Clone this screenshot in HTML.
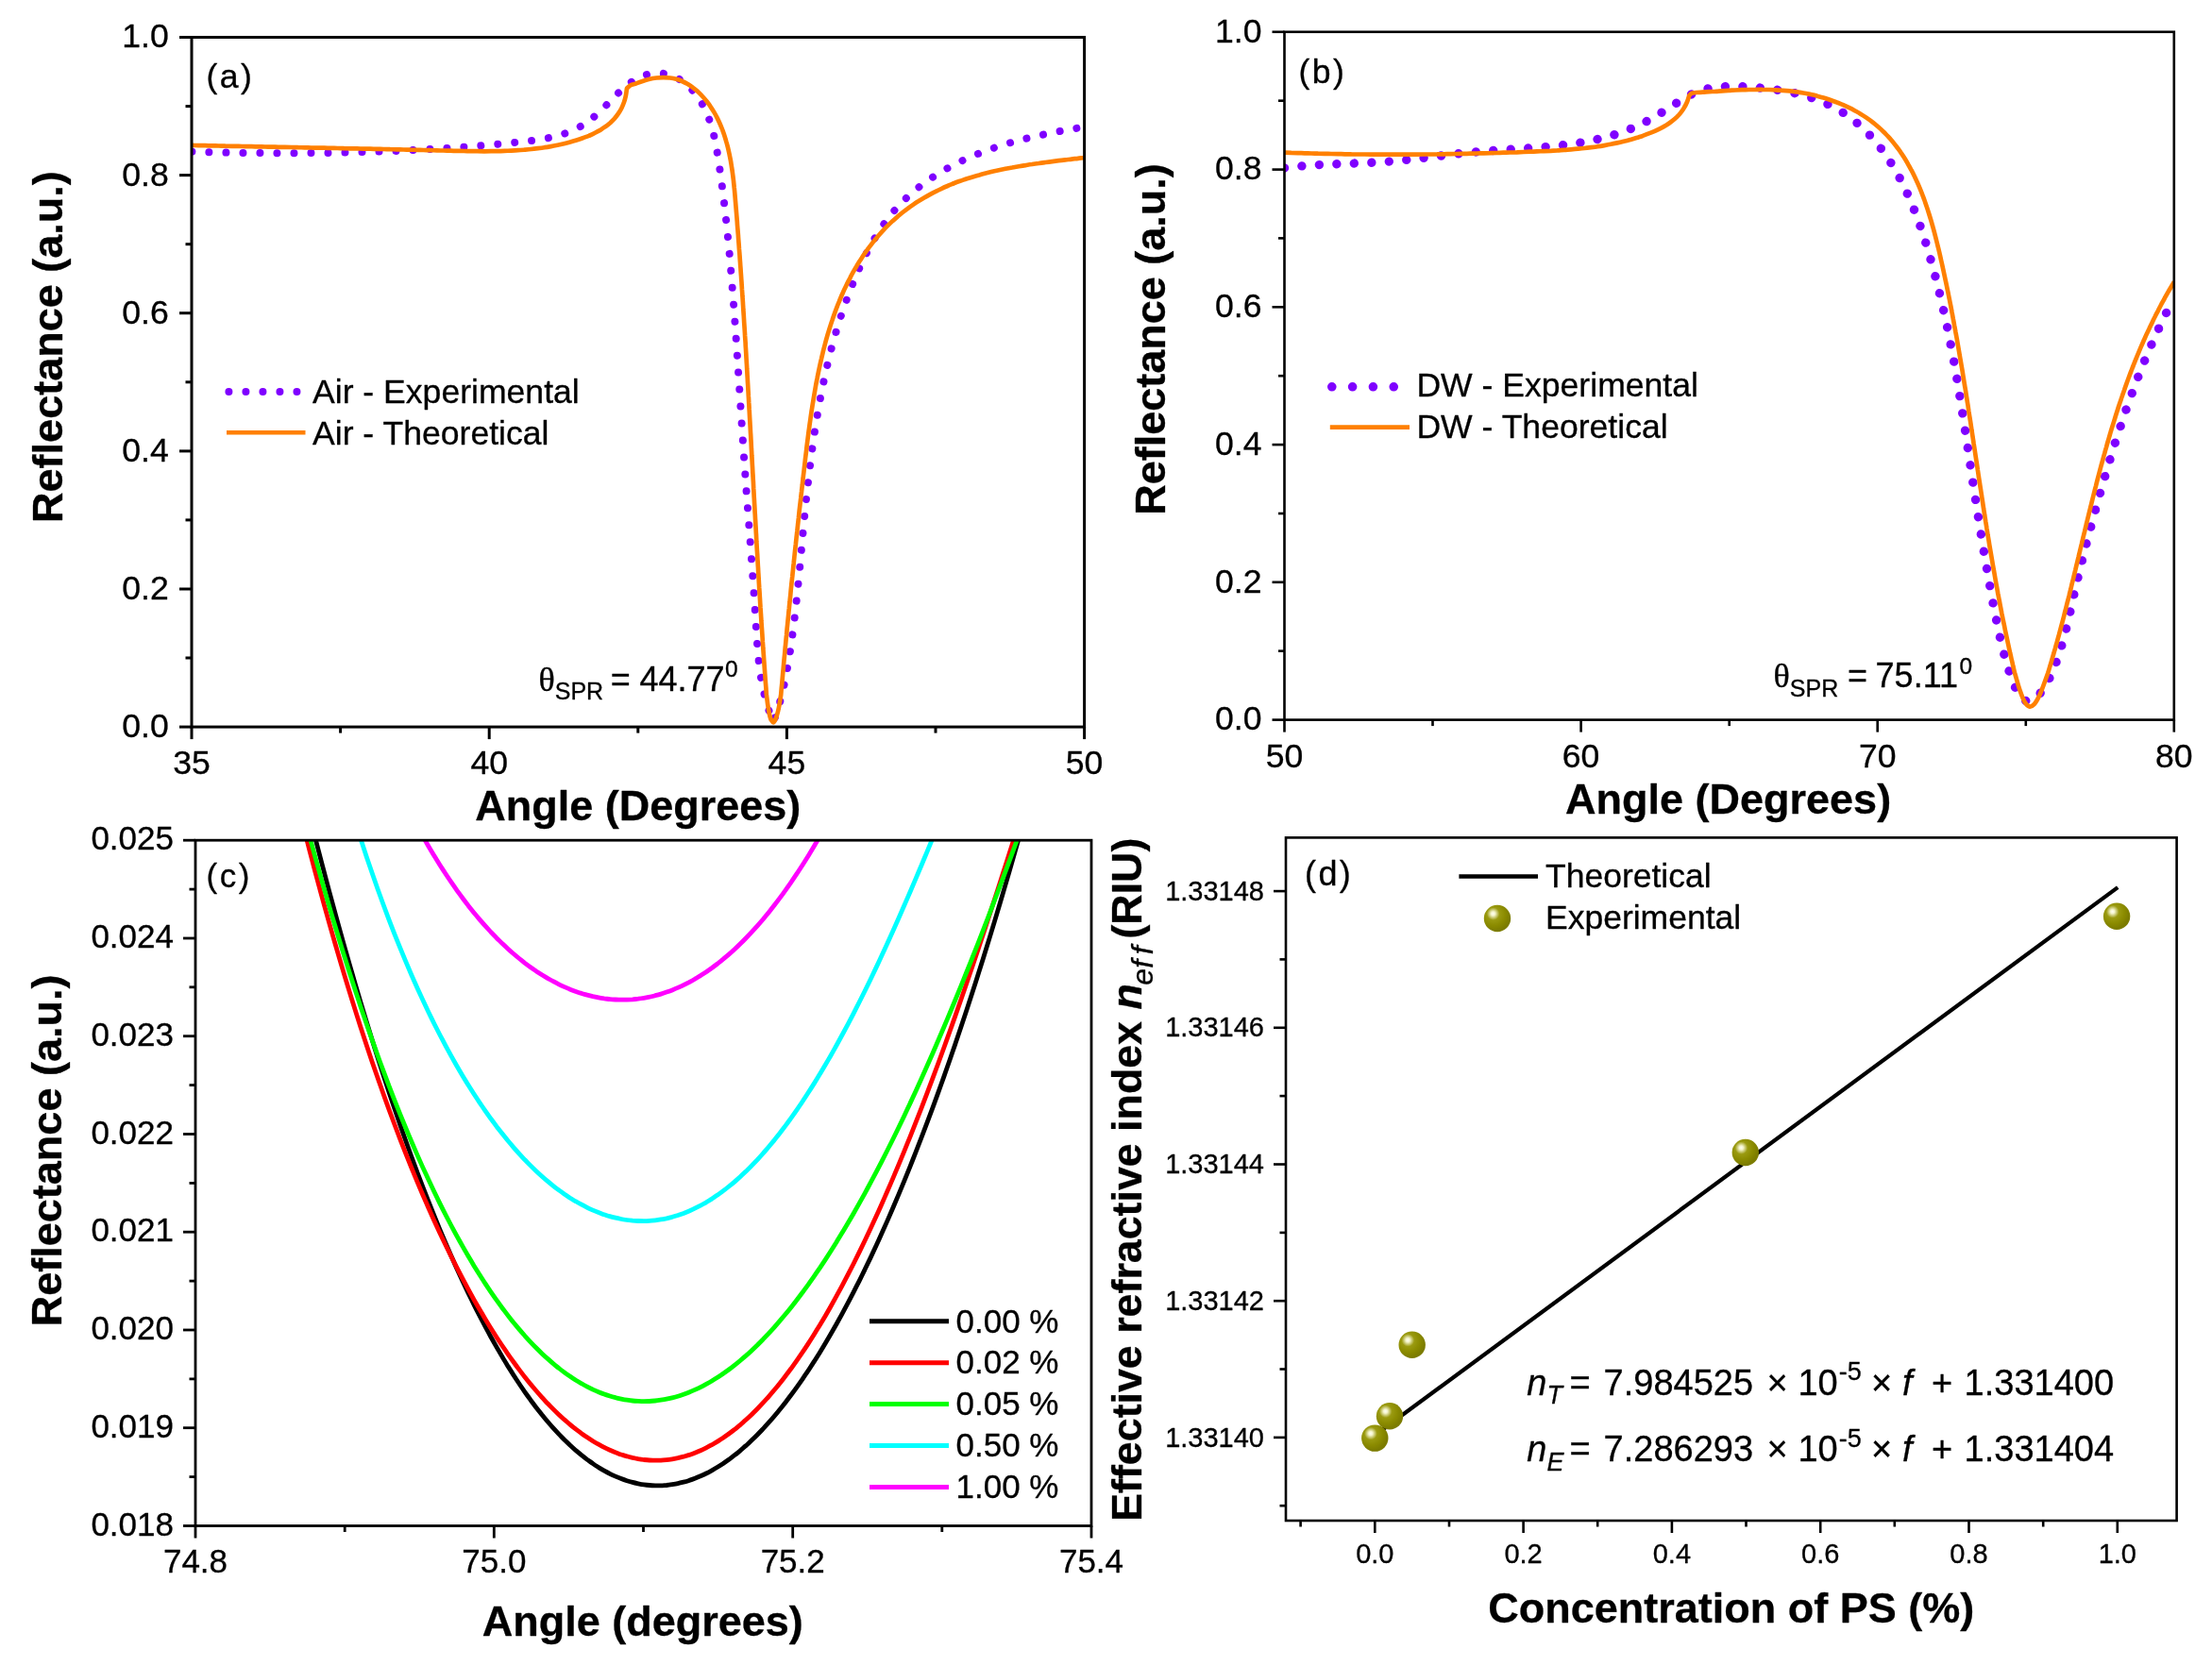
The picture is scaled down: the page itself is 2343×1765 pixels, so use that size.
<!DOCTYPE html><html><head><meta charset="utf-8"><title>SPR reflectance figure</title>
<style>html,body{margin:0;padding:0;background:#fff}svg{display:block;filter:blur(.55px)}text{fill:#000;stroke:#000;stroke-width:.32px;stroke-linejoin:round}</style></head><body>
<svg width="2343" height="1765" viewBox="0 0 2343 1765">
<rect width="2343" height="1765" fill="#fff"/>
<defs><radialGradient id="ball" cx="0.36" cy="0.34" r="0.62" fx="0.34" fy="0.32"><stop offset="0" stop-color="#fffff4"/><stop offset="0.12" stop-color="#f4f4cc"/><stop offset="0.38" stop-color="#9a9a10"/><stop offset="0.7" stop-color="#8b8b00"/><stop offset="1" stop-color="#7c7c00"/></radialGradient></defs>
<g id="panel-a">
<clipPath id="clipA"><rect x="203" y="37.5" width="947.6" height="734.6"/></clipPath>
<g clip-path="url(#clipA)">
<path d="M203.4 160.7C205.7 160.8 208 160.8 210.3 160.9C212.7 161 215 161 217.3 161.1C219.6 161.2 221.9 161.2 224.3 161.3C226.6 161.3 228.9 161.4 231.2 161.4C233.6 161.5 235.9 161.5 238.2 161.6C240.6 161.6 242.9 161.7 245.2 161.7C247.5 161.7 249.9 161.8 252.2 161.8C254.6 161.9 256.9 161.9 259.2 161.9C261.6 162 263.9 162 266.2 162C268.6 162 270.9 162.1 273.3 162.1C275.6 162.1 278 162.1 280.3 162.2C282.7 162.2 285 162.2 287.3 162.2C289.7 162.2 292 162.2 294.4 162.2C296.7 162.2 299.1 162.2 301.4 162.2C303.8 162.2 306.1 162.2 308.5 162.2C310.9 162.2 313.2 162.2 315.6 162.2C317.9 162.2 320.3 162.2 322.6 162.2C325 162.2 327.3 162.1 329.7 162.1C332 162.1 334.4 162.1 336.8 162C339.1 162 341.5 162 343.8 162C346.2 161.9 348.5 161.9 350.9 161.9C353.3 161.8 355.6 161.8 358 161.7C360.3 161.7 362.7 161.6 365 161.6C367.4 161.5 369.8 161.5 372.1 161.4C374.5 161.4 376.8 161.3 379.2 161.2C381.6 161.2 383.9 161.1 386.3 161C388.6 161 391 160.9 393.3 160.8C395.7 160.8 398 160.7 400.4 160.6C402.8 160.5 405.1 160.4 407.5 160.3C409.8 160.2 412.2 160.2 414.5 160.1C416.9 160 419.2 159.9 421.6 159.8C423.9 159.7 426.3 159.6 428.6 159.4C431 159.3 433.3 159.2 435.7 159.1C438 159 440.4 158.9 442.7 158.8C445.1 158.6 447.4 158.5 449.8 158.4C452.1 158.2 454.5 158.1 456.8 158C459.1 157.8 461.5 157.7 463.8 157.6C466.2 157.4 468.5 157.3 470.8 157.1C473.2 157 475.5 156.8 477.8 156.6C480.2 156.5 482.5 156.3 484.8 156.2C487.2 156 489.5 155.8 491.8 155.7C494.1 155.5 496.5 155.3 498.8 155.1C501.1 154.9 503.4 154.8 505.8 154.6C508.1 154.4 510.4 154.2 512.7 154C515 153.8 517.4 153.6 519.7 153.4C522 153.2 524.3 153 526.6 152.8C528.9 152.6 531.2 152.3 533.5 152.1C535.8 151.9 538.1 151.7 540.4 151.4C542.7 151.2 545 151 547.3 150.8C549.6 150.5 551.9 150.3 554.2 150C556.5 149.8 558.8 149.5 561.1 149.2C563.3 149 565.6 148.7 567.9 148.3C570.1 148 572.4 147.7 574.6 147.3C576.9 146.9 579.1 146.5 581.3 146C583.5 145.6 585.7 145.1 587.9 144.5C590.1 144 592.3 143.4 594.4 142.7C596.6 142 598.7 141.3 600.8 140.5C603 139.7 605.1 138.8 607.1 137.9C609.2 137 611.2 135.9 613.2 134.9C615.3 133.7 617.3 132.6 619.2 131.3C621.2 130 623.1 128.6 625 127.2C626.9 125.7 628.8 124.1 630.6 122.5C632.5 120.9 634.3 119.2 636.1 117.4C638 115.7 639.7 113.9 641.5 112.1C643.3 110.3 645.1 108.4 646.9 106.6C648.6 104.8 650.4 103 652.2 101.2C654 99.5 655.8 97.7 657.6 96C659.4 94.4 661.2 92.8 663 91.2C664.8 89.8 666.7 88.3 668.6 87C670.5 85.7 672.4 84.5 674.3 83.5C676.3 82.4 678.2 81.5 680.3 80.7C682.2 80 684.2 79.3 686.3 78.8C688.3 78.3 690.3 77.9 692.4 77.7C694.4 77.5 696.4 77.4 698.4 77.5C700.5 77.6 702.5 77.8 704.5 78.1C706.5 78.5 708.5 79 710.4 79.7C712.4 80.3 714.3 81.1 716.2 82.1C718.1 83 719.9 84.1 721.7 85.3C723.5 86.6 725.3 87.9 727 89.4C728.7 90.9 730.3 92.4 731.9 94.1C733.5 95.7 735 97.5 736.4 99.3C737.8 101.1 739.2 103 740.5 104.9C741.8 106.8 743 108.8 744.1 110.8C745.2 112.7 746.2 114.8 747.2 116.9C748.2 118.9 749.1 121 749.9 123.2C750.8 125.3 751.6 127.5 752.3 129.7C753 131.9 753.7 134.1 754.3 136.3C755 138.6 755.5 140.8 756.1 143.1C756.6 145.4 757.1 147.7 757.6 150C758.1 152.3 758.5 154.6 758.9 157C759.3 159.3 759.7 161.6 760.1 164C760.5 166.3 760.8 168.7 761.2 171C761.5 173.4 761.9 175.8 762.2 178.1C762.6 180.5 762.9 182.8 763.2 185.2C763.5 187.5 763.9 189.9 764.2 192.3C764.5 194.6 764.8 197 765.1 199.3C765.4 201.7 765.7 204 766 206.4C766.3 208.7 766.6 211.1 766.9 213.5C767.1 215.8 767.4 218.2 767.7 220.5C768 222.9 768.2 225.2 768.5 227.6C768.7 229.9 769 232.3 769.3 234.7C769.5 237 769.8 239.4 770 241.7C770.3 244.1 770.5 246.4 770.7 248.8C771 251.1 771.2 253.5 771.4 255.8C771.7 258.2 771.9 260.6 772.1 262.9C772.3 265.3 772.5 267.6 772.8 270C773 272.3 773.2 274.7 773.4 277C773.6 279.4 773.8 281.7 774 284.1C774.2 286.4 774.4 288.8 774.6 291.1C774.8 293.5 775 295.8 775.2 298.2C775.4 300.5 775.6 302.9 775.7 305.3C775.9 307.6 776.1 310 776.3 312.3C776.5 314.7 776.7 317 776.8 319.4C777 321.7 777.2 324.1 777.4 326.4C777.5 328.8 777.7 331.1 777.9 333.5C778.1 335.8 778.2 338.2 778.4 340.5C778.6 342.9 778.7 345.2 778.9 347.5C779.1 349.9 779.2 352.2 779.4 354.6C779.6 356.9 779.7 359.3 779.9 361.6C780 364 780.2 366.3 780.4 368.7C780.5 371 780.7 373.4 780.8 375.7C781 378.1 781.2 380.4 781.3 382.7C781.5 385.1 781.6 387.4 781.8 389.8C781.9 392.1 782.1 394.5 782.2 396.8C782.4 399.2 782.6 401.5 782.7 403.8C782.9 406.2 783 408.5 783.2 410.9C783.3 413.2 783.5 415.6 783.6 417.9C783.8 420.2 783.9 422.6 784.1 424.9C784.2 427.3 784.4 429.6 784.5 431.9C784.7 434.3 784.9 436.6 785 439C785.2 441.3 785.3 443.6 785.5 446C785.6 448.3 785.8 450.6 785.9 453C786.1 455.3 786.2 457.7 786.4 460C786.6 462.3 786.7 464.7 786.9 467C787 469.3 787.2 471.7 787.3 474C787.5 476.3 787.7 478.7 787.8 481C788 483.3 788.1 485.7 788.3 488C788.5 490.3 788.6 492.7 788.8 495C789 497.3 789.1 499.7 789.3 502C789.5 504.3 789.6 506.7 789.8 509C790 511.3 790.1 513.6 790.3 516C790.5 518.3 790.6 520.6 790.8 523C791 525.3 791.2 527.6 791.3 529.9C791.5 532.3 791.7 534.6 791.9 536.9C792 539.2 792.2 541.6 792.4 543.9C792.6 546.2 792.7 548.5 792.9 550.9C793.1 553.2 793.3 555.5 793.4 557.8C793.6 560.2 793.8 562.5 794 564.8C794.1 567.1 794.3 569.4 794.5 571.8C794.7 574.1 794.8 576.4 795 578.7C795.2 581 795.3 583.4 795.5 585.7C795.7 588 795.9 590.3 796 592.6C796.2 594.9 796.4 597.3 796.5 599.6C796.7 601.9 796.9 604.2 797 606.5C797.2 608.8 797.4 611.1 797.5 613.4C797.7 615.8 797.9 618.1 798 620.4C798.2 622.7 798.3 625 798.5 627.3C798.7 629.6 798.8 631.9 799 634.2C799.1 636.5 799.3 638.9 799.4 641.2C799.6 643.5 799.7 645.8 799.9 648.1C800 650.4 800.2 652.7 800.3 655C800.5 657.3 800.6 659.6 800.7 661.9C800.9 664.2 801 666.5 801.2 668.8C801.3 671.1 801.5 673.4 801.6 675.7C801.8 678 801.9 680.3 802.1 682.6C802.3 684.9 802.5 687.2 802.7 689.5C802.8 691.8 803.1 694.1 803.3 696.4C803.5 698.7 803.8 701 804 703.3C804.3 705.6 804.6 707.9 804.9 710.2C805.2 712.4 805.5 714.7 805.9 717C806.3 719.3 806.7 721.6 807.1 723.9C807.5 726.2 808 728.5 808.5 730.8C809 733.1 809.5 735.3 810.1 737.6C810.6 739.9 811.3 742.2 811.9 744.5C812.6 746.8 813.2 749.1 814 751.3C814.7 753.6 815.5 755.9 816.3 758.2C817.2 760.5 818.1 762.7 819 765L819 765C819.8 762.8 820.7 760.7 821.5 758.5C822.2 756.3 823 754.1 823.7 751.9C824.4 749.7 825 747.5 825.7 745.3C826.3 743.1 826.9 740.9 827.5 738.7C828 736.5 828.6 734.3 829.1 732.1C829.6 729.9 830.1 727.6 830.6 725.4C831 723.2 831.5 720.9 831.9 718.7C832.4 716.4 832.8 714.2 833.2 711.9C833.6 709.7 834 707.4 834.4 705.2C834.8 702.9 835.2 700.6 835.6 698.4C835.9 696.1 836.3 693.8 836.7 691.5C837 689.3 837.4 687 837.7 684.7C838 682.4 838.4 680.1 838.7 677.8C839 675.5 839.3 673.2 839.6 670.9C839.9 668.6 840.2 666.3 840.5 664C840.8 661.7 841.1 659.4 841.4 657.1C841.6 654.8 841.9 652.5 842.2 650.2C842.4 647.8 842.7 645.5 843 643.2C843.2 640.9 843.5 638.5 843.7 636.2C844 633.9 844.2 631.5 844.4 629.2C844.7 626.9 844.9 624.5 845.2 622.2C845.4 619.8 845.6 617.5 845.8 615.2C846.1 612.8 846.3 610.5 846.5 608.1C846.7 605.8 847 603.4 847.2 601.1C847.4 598.7 847.6 596.4 847.8 594C848 591.7 848.2 589.3 848.5 586.9C848.7 584.6 848.9 582.2 849.1 579.9C849.3 577.5 849.5 575.1 849.8 572.8C850 570.4 850.2 568.1 850.4 565.7C850.6 563.3 850.8 561 851.1 558.6C851.3 556.2 851.5 553.9 851.7 551.5C852 549.1 852.2 546.8 852.4 544.4C852.6 542 852.9 539.7 853.1 537.3C853.4 534.9 853.6 532.6 853.8 530.2C854.1 527.8 854.3 525.5 854.6 523.1C854.8 520.7 855.1 518.4 855.4 516C855.6 513.7 855.9 511.3 856.2 508.9C856.4 506.6 856.7 504.2 857 501.8C857.3 499.5 857.5 497.1 857.8 494.8C858.1 492.4 858.4 490 858.7 487.7C859 485.3 859.3 483 859.6 480.6C859.9 478.3 860.3 475.9 860.6 473.6C860.9 471.2 861.2 468.9 861.6 466.5C861.9 464.2 862.3 461.8 862.6 459.5C863 457.1 863.3 454.8 863.7 452.4C864.1 450.1 864.4 447.8 864.8 445.4C865.2 443.1 865.6 440.8 866 438.4C866.4 436.1 866.8 433.8 867.2 431.4C867.6 429.1 868 426.8 868.5 424.5C868.9 422.2 869.3 419.8 869.8 417.5C870.2 415.2 870.7 412.9 871.1 410.6C871.6 408.3 872.1 406 872.6 403.7C873.1 401.4 873.6 399.1 874.1 396.8C874.6 394.5 875.1 392.2 875.6 389.9C876.1 387.7 876.7 385.4 877.2 383.1C877.8 380.8 878.3 378.5 878.9 376.3C879.5 374 880.1 371.7 880.6 369.5C881.2 367.2 881.8 365 882.5 362.7C883.1 360.5 883.7 358.2 884.3 356C885 353.7 885.6 351.5 886.3 349.3C887 347 887.6 344.8 888.3 342.6C889 340.4 889.7 338.2 890.4 335.9C891.2 333.7 891.9 331.5 892.6 329.3C893.4 327.1 894.1 324.9 894.9 322.7C895.7 320.6 896.5 318.4 897.2 316.2C898 314 898.9 311.8 899.7 309.7C900.5 307.5 901.4 305.4 902.2 303.2C903.1 301.1 903.9 298.9 904.8 296.8C905.7 294.6 906.6 292.5 907.5 290.4C908.5 288.2 909.4 286.1 910.3 284C911.3 281.9 912.3 279.8 913.2 277.7C914.2 275.6 915.2 273.5 916.3 271.4C917.3 269.4 918.3 267.3 919.4 265.3C920.5 263.2 921.6 261.2 922.7 259.2C923.8 257.1 924.9 255.1 926.1 253.1C927.3 251.2 928.5 249.2 929.7 247.2C930.9 245.3 932.2 243.4 933.4 241.4C934.7 239.5 936 237.6 937.4 235.8C938.7 233.9 940.1 232.1 941.5 230.2C942.9 228.4 944.3 226.6 945.8 224.9C947.3 223.1 948.8 221.3 950.4 219.6C951.9 217.9 953.5 216.2 955.1 214.6C956.8 212.9 958.4 211.3 960.1 209.7C961.8 208.1 963.5 206.5 965.3 205C967.1 203.4 968.9 201.9 970.7 200.4C972.5 198.9 974.4 197.5 976.2 196C978.1 194.6 980 193.2 982 191.8C983.9 190.5 985.8 189.1 987.8 187.8C989.8 186.5 991.8 185.2 993.8 184C995.8 182.7 997.9 181.5 999.9 180.3C1002 179.1 1004.1 178 1006.2 176.8C1008.2 175.7 1010.3 174.6 1012.5 173.5C1014.6 172.4 1016.7 171.4 1018.9 170.4C1021 169.4 1023.2 168.4 1025.3 167.4C1027.5 166.4 1029.7 165.5 1031.9 164.6C1034.1 163.7 1036.3 162.8 1038.5 161.9C1040.7 161 1042.9 160.2 1045.2 159.4C1047.4 158.6 1049.6 157.8 1051.9 157C1054.1 156.2 1056.4 155.5 1058.6 154.7C1060.9 154 1063.2 153.3 1065.4 152.6C1067.7 151.9 1070 151.3 1072.3 150.6C1074.6 150 1076.8 149.3 1079.1 148.7C1081.4 148.1 1083.7 147.5 1086 146.9C1088.3 146.4 1090.6 145.8 1092.9 145.3C1095.2 144.7 1097.5 144.2 1099.8 143.7C1102.1 143.2 1104.4 142.7 1106.7 142.2C1108.9 141.7 1111.2 141.2 1113.5 140.8C1115.8 140.3 1118.1 139.9 1120.4 139.4C1122.7 139 1124.9 138.6 1127.2 138.2C1129.5 137.7 1131.7 137.3 1134 136.9C1136.3 136.6 1138.5 136.2 1140.8 135.8C1143 135.4 1145.3 135.1 1147.5 134.7" fill="none" stroke="#7f00ff" stroke-width="8" stroke-linecap="round" stroke-dasharray="0.01 18"/>
<path d="M203 153.9C205.4 154 207.8 154 210.2 154.1C212.5 154.1 214.9 154.2 217.3 154.2C219.7 154.3 222.1 154.3 224.4 154.4C226.8 154.4 229.2 154.5 231.5 154.5C233.9 154.6 236.3 154.6 238.6 154.7C241 154.7 243.3 154.7 245.7 154.8C248 154.8 250.4 154.9 252.7 154.9C255.1 155 257.4 155 259.8 155.1C262.1 155.1 264.5 155.2 266.8 155.2C269.1 155.3 271.5 155.3 273.8 155.4C276.2 155.4 278.5 155.5 280.8 155.5C283.2 155.5 285.5 155.6 287.8 155.6C290.1 155.7 292.5 155.7 294.8 155.8C297.1 155.8 299.5 155.9 301.8 155.9C304.1 156 306.4 156 308.7 156C311.1 156.1 313.4 156.1 315.7 156.2C318 156.2 320.4 156.3 322.7 156.3C325 156.4 327.3 156.4 329.6 156.5C332 156.5 334.3 156.6 336.6 156.6C338.9 156.6 341.2 156.7 343.5 156.7C345.9 156.8 348.2 156.8 350.5 156.9C352.8 156.9 355.1 157 357.5 157C359.8 157.1 362.1 157.1 364.4 157.2C366.7 157.2 369.1 157.2 371.4 157.3C373.7 157.3 376 157.4 378.3 157.4C380.7 157.5 383 157.5 385.3 157.6C387.6 157.6 390 157.7 392.3 157.7C394.6 157.8 397 157.8 399.3 157.9C401.6 157.9 404 158 406.3 158C408.6 158.1 411 158.1 413.3 158.2C415.6 158.2 418 158.3 420.3 158.3C422.7 158.4 425 158.4 427.3 158.5C429.7 158.6 432 158.6 434.4 158.7C436.7 158.7 439.1 158.8 441.4 158.8C443.8 158.9 446.2 158.9 448.5 159C450.9 159.1 453.2 159.1 455.6 159.2C458 159.2 460.3 159.3 462.7 159.3C465.1 159.4 467.5 159.5 469.8 159.5C472.2 159.6 474.6 159.6 477 159.7C479.4 159.8 481.8 159.8 484.2 159.9C486.5 159.9 488.9 160 491.3 160C493.7 160.1 496.1 160.1 498.5 160.2C500.9 160.2 503.3 160.2 505.7 160.2C508.1 160.3 510.5 160.3 512.9 160.3C515.3 160.3 517.7 160.3 520.1 160.2C522.4 160.2 524.8 160.2 527.2 160.1C529.6 160.1 532 160 534.4 159.9C536.8 159.8 539.1 159.7 541.5 159.6C543.9 159.5 546.2 159.4 548.6 159.2C551 159.1 553.3 158.9 555.7 158.7C558 158.5 560.4 158.3 562.7 158C565.1 157.8 567.4 157.5 569.7 157.2C572.1 156.9 574.4 156.6 576.7 156.2C579 155.9 581.3 155.5 583.6 155.1C585.9 154.7 588.2 154.2 590.5 153.7C592.7 153.3 595 152.8 597.3 152.2C599.5 151.7 601.8 151.1 604 150.5C606.2 149.9 608.5 149.2 610.7 148.5C612.9 147.8 615.1 147.1 617.3 146.3C619.4 145.6 621.5 144.7 623.7 143.9C625.7 143 627.8 142.1 629.8 141C631.8 140 633.8 139 635.7 137.9C637.6 136.7 639.4 135.5 641.2 134.2C643 133 644.7 131.6 646.3 130.2C647.9 128.7 649.4 127.2 650.9 125.6C652.3 124 653.7 122.2 654.9 120.4C656.1 118.6 657.3 116.7 658.3 114.7C659.3 112.7 660.2 110.5 661 108.3C661.8 106 662.4 103.7 662.9 101.3C663.4 98.7 663.6 96.1 664 93.5L664 93.5C665.3 92.4 666.5 91 668 90.2C669.5 89.4 671.3 89.3 673 88.8L673 88.8C675.6 87.8 678.1 86.7 680.7 85.9C683.1 85.1 685.6 84.4 688.2 83.8C690.6 83.2 693.1 82.8 695.5 82.5C697.9 82.2 700.3 82.1 702.7 82.1C705 82.1 707.3 82.2 709.6 82.5C711.8 82.8 714 83.2 716.2 83.8C718.3 84.4 720.4 85.1 722.4 86C724.5 86.9 726.5 87.9 728.4 89C730.3 90.2 732.2 91.4 734 92.8C735.8 94.1 737.5 95.6 739.2 97.1C740.9 98.7 742.5 100.3 744 102C745.6 103.7 747.1 105.5 748.5 107.3C749.9 109.1 751.3 110.9 752.5 112.8C753.8 114.7 755 116.7 756.2 118.6C757.4 120.6 758.5 122.6 759.5 124.6C760.5 126.6 761.5 128.7 762.4 130.7C763.3 132.8 764.2 134.9 765 137C765.8 139.2 766.6 141.3 767.3 143.5C768 145.7 768.7 147.9 769.3 150.1C770 152.3 770.5 154.5 771.1 156.8C771.6 159 772.1 161.3 772.6 163.6C773.1 165.9 773.5 168.2 774 170.5C774.4 172.8 774.7 175.2 775.1 177.5C775.5 179.8 775.8 182.2 776.1 184.5C776.4 186.9 776.7 189.3 777 191.7C777.2 194 777.5 196.4 777.7 198.8C778 201.2 778.2 203.6 778.4 206C778.6 208.4 778.8 210.8 779 213.2C779.2 215.6 779.4 218 779.6 220.4C779.8 222.8 780 225.2 780.2 227.6C780.4 230 780.6 232.4 780.8 234.8C780.9 237.2 781.1 239.6 781.3 241.9C781.5 244.3 781.7 246.7 781.9 249.1C782 251.5 782.2 253.9 782.4 256.3C782.6 258.7 782.8 261 782.9 263.4C783.1 265.8 783.3 268.2 783.5 270.6C783.6 272.9 783.8 275.3 784 277.7C784.1 280.1 784.3 282.5 784.5 284.8C784.6 287.2 784.8 289.6 785 292C785.1 294.3 785.3 296.7 785.5 299.1C785.6 301.4 785.8 303.8 785.9 306.2C786.1 308.5 786.3 310.9 786.4 313.3C786.6 315.6 786.7 318 786.9 320.4C787 322.7 787.2 325.1 787.3 327.5C787.5 329.8 787.6 332.2 787.8 334.5C787.9 336.9 788.1 339.3 788.2 341.6C788.4 344 788.5 346.3 788.7 348.7C788.8 351 789 353.4 789.1 355.7C789.3 358.1 789.4 360.5 789.6 362.8C789.7 365.2 789.8 367.5 790 369.9C790.1 372.2 790.3 374.6 790.4 376.9C790.5 379.3 790.7 381.6 790.8 384C791 386.3 791.1 388.7 791.2 391C791.4 393.4 791.5 395.7 791.6 398.1C791.8 400.4 791.9 402.7 792 405.1C792.2 407.4 792.3 409.8 792.4 412.1C792.6 414.5 792.7 416.8 792.8 419.2C793 421.5 793.1 423.8 793.2 426.2C793.4 428.5 793.5 430.9 793.6 433.2C793.8 435.5 793.9 437.9 794 440.2C794.1 442.6 794.3 444.9 794.4 447.2C794.5 449.6 794.7 451.9 794.8 454.3C794.9 456.6 795 458.9 795.2 461.3C795.3 463.6 795.4 466 795.6 468.3C795.7 470.6 795.8 473 795.9 475.3C796.1 477.7 796.2 480 796.3 482.3C796.5 484.7 796.6 487 796.7 489.3C796.8 491.7 797 494 797.1 496.4C797.2 498.7 797.3 501 797.5 503.4C797.6 505.7 797.7 508 797.9 510.4C798 512.7 798.1 515 798.2 517.4C798.4 519.7 798.5 522.1 798.6 524.4C798.7 526.7 798.9 529.1 799 531.4C799.1 533.7 799.3 536.1 799.4 538.4C799.5 540.8 799.6 543.1 799.8 545.4C799.9 547.8 800 550.1 800.2 552.4C800.3 554.8 800.4 557.1 800.6 559.5C800.7 561.8 800.8 564.1 801 566.5C801.1 568.8 801.2 571.2 801.3 573.5C801.5 575.8 801.6 578.2 801.7 580.5C801.9 582.9 802 585.2 802.2 587.5C802.3 589.9 802.4 592.2 802.6 594.6C802.7 596.9 802.8 599.3 803 601.6C803.1 604 803.2 606.3 803.4 608.6C803.5 611 803.7 613.3 803.8 615.7C803.9 618 804.1 620.4 804.2 622.7C804.4 625.1 804.5 627.4 804.7 629.8C804.8 632.1 805 634.5 805.1 636.8C805.2 639.2 805.4 641.5 805.5 643.9C805.7 646.2 805.8 648.6 806 650.9C806.1 653.3 806.3 655.6 806.4 658C806.6 660.3 806.7 662.7 806.9 665C807.1 667.4 807.2 669.7 807.4 672.1C807.5 674.5 807.7 676.8 807.8 679.2C808 681.5 808.2 683.9 808.3 686.3C808.5 688.6 808.6 691 808.8 693.3C809 695.7 809.1 698.1 809.3 700.4C809.5 702.8 809.6 705.2 809.8 707.5C810 709.9 810.1 712.3 810.3 714.6C810.5 717 810.7 719.4 810.8 721.8C811 724.1 811.2 726.5 811.4 728.9C811.5 731.3 811.7 733.6 811.9 736L811.9 736C812.5 740.8 813 745.6 813.8 750.4C814.3 753.5 814.9 756.6 815.7 759.6C816 760.9 816.5 762.1 817.2 763.2C817.7 764.1 818.6 765.5 819.2 765.5C819.8 765.5 820.4 764 820.9 763.2C821.5 762.1 822 760.8 822.4 759.6C823.3 756.6 824.2 753.5 824.8 750.4C825.8 745.6 826.4 740.8 827.2 736L827.2 736C827.4 733.6 827.6 731.2 827.8 728.8C828.1 726.4 828.3 724.1 828.5 721.7C828.7 719.3 828.9 716.9 829.1 714.6C829.3 712.2 829.6 709.9 829.8 707.5C830 705.2 830.2 702.8 830.4 700.4C830.6 698.1 830.9 695.8 831.1 693.4C831.3 691.1 831.5 688.8 831.7 686.4C832 684.1 832.2 681.8 832.4 679.4C832.6 677.1 832.8 674.8 833.1 672.5C833.3 670.2 833.5 667.9 833.7 665.5C834 663.2 834.2 660.9 834.4 658.6C834.6 656.3 834.9 654 835.1 651.7C835.3 649.4 835.5 647.1 835.8 644.8C836 642.5 836.2 640.2 836.5 637.9C836.7 635.6 836.9 633.4 837.2 631.1C837.4 628.8 837.6 626.5 837.8 624.2C838.1 621.9 838.3 619.6 838.5 617.3C838.8 615.1 839 612.8 839.3 610.5C839.5 608.2 839.7 605.9 840 603.6C840.2 601.4 840.4 599.1 840.7 596.8C840.9 594.5 841.2 592.2 841.4 589.9C841.6 587.7 841.9 585.4 842.1 583.1C842.4 580.8 842.6 578.5 842.9 576.2C843.1 573.9 843.4 571.7 843.6 569.4C843.9 567.1 844.1 564.8 844.4 562.5C844.6 560.2 844.9 557.9 845.1 555.6C845.4 553.3 845.6 551 845.9 548.7C846.1 546.4 846.4 544.1 846.6 541.8C846.9 539.5 847.1 537.2 847.4 534.9C847.7 532.6 847.9 530.3 848.2 528C848.4 525.7 848.7 523.4 849 521C849.2 518.7 849.5 516.4 849.8 514.1C850 511.7 850.3 509.4 850.6 507.1C850.8 504.7 851.1 502.4 851.4 500.1C851.7 497.7 851.9 495.4 852.2 493C852.5 490.7 852.8 488.3 853 486C853.3 483.6 853.6 481.2 853.9 478.9C854.2 476.5 854.4 474.1 854.7 471.8C855 469.4 855.3 467 855.6 464.7C855.9 462.3 856.2 459.9 856.5 457.5C856.9 455.2 857.2 452.8 857.5 450.4C857.8 448 858.2 445.7 858.5 443.3C858.8 440.9 859.2 438.5 859.5 436.2C859.9 433.8 860.3 431.4 860.6 429.1C861 426.7 861.4 424.3 861.8 422C862.2 419.6 862.6 417.2 863 414.9C863.4 412.5 863.8 410.1 864.2 407.8C864.7 405.4 865.1 403.1 865.6 400.7C866 398.4 866.5 396.1 867 393.7C867.5 391.4 868 389.1 868.5 386.7C869 384.4 869.5 382.1 870.1 379.8C870.6 377.5 871.2 375.2 871.7 372.9C872.3 370.6 872.9 368.3 873.5 366C874.1 363.7 874.7 361.4 875.3 359.2C876 356.9 876.6 354.6 877.3 352.4C878 350.1 878.7 347.9 879.4 345.6C880.1 343.4 880.8 341.2 881.6 339C882.3 336.8 883.1 334.6 883.9 332.4C884.7 330.2 885.5 328 886.3 325.8C887.1 323.7 888 321.5 888.9 319.4C889.7 317.2 890.6 315.1 891.5 313C892.5 310.8 893.4 308.7 894.4 306.6C895.3 304.6 896.3 302.5 897.3 300.4C898.4 298.3 899.4 296.3 900.5 294.3C901.5 292.2 902.6 290.2 903.7 288.2C904.9 286.2 906 284.2 907.2 282.2C908.3 280.2 909.5 278.3 910.8 276.3C912 274.4 913.3 272.5 914.5 270.6C915.8 268.7 917.1 266.8 918.5 264.9C919.8 263 921.2 261.2 922.6 259.4C924 257.5 925.4 255.7 926.9 254C928.3 252.2 929.8 250.4 931.3 248.7C932.8 247 934.3 245.3 935.9 243.6C937.5 241.9 939.1 240.3 940.7 238.7C942.3 237.1 944 235.5 945.7 233.9C947.4 232.4 949.1 230.9 950.8 229.4C952.6 227.9 954.3 226.4 956.1 225C957.9 223.6 959.7 222.2 961.6 220.9C963.4 219.5 965.3 218.2 967.2 216.9C969.1 215.6 971 214.3 973 213.1C974.9 211.9 976.9 210.7 978.9 209.5C980.9 208.3 982.9 207.2 984.9 206.1C986.9 205 989 203.9 991.1 202.9C993.1 201.8 995.2 200.8 997.4 199.8C999.5 198.8 1001.6 197.9 1003.7 197C1005.9 196 1008.1 195.2 1010.3 194.3C1012.4 193.4 1014.6 192.6 1016.9 191.8C1019.1 191 1021.3 190.3 1023.5 189.5C1025.8 188.8 1028 188.1 1030.3 187.4C1032.6 186.7 1034.9 186 1037.2 185.4C1039.4 184.7 1041.7 184.1 1044.1 183.5C1046.4 183 1048.7 182.4 1051 181.8C1053.3 181.3 1055.7 180.8 1058 180.3C1060.3 179.8 1062.7 179.3 1065 178.8C1067.4 178.3 1069.7 177.9 1072.1 177.5C1074.4 177 1076.8 176.6 1079.2 176.2C1081.5 175.8 1083.9 175.4 1086.2 175.1C1088.6 174.7 1090.9 174.3 1093.3 174C1095.7 173.6 1098 173.3 1100.4 173C1102.7 172.6 1105.1 172.3 1107.4 172C1109.7 171.7 1112.1 171.4 1114.4 171.1C1116.7 170.8 1119 170.5 1121.4 170.2C1123.7 170 1126 169.7 1128.3 169.4C1130.6 169.1 1132.8 168.9 1135.1 168.6C1137.4 168.3 1139.6 168.1 1141.9 167.8C1144.1 167.5 1146.4 167.3 1148.6 167" fill="none" stroke="#ff8000" stroke-width="4.7" stroke-linejoin="round"/>
</g>
<rect x="203" y="39.5" width="945.6" height="730.6" fill="none" stroke="#000" stroke-width="3"/>
<line x1="190" y1="770.1" x2="203" y2="770.1" stroke="#000" stroke-width="3" />
<text x="178.7" y="781" font-family="'Liberation Sans', Arial, sans-serif" font-size="35.6" text-anchor="end" font-weight="normal" font-style="normal" >0.0</text>
<line x1="196.5" y1="697" x2="203" y2="697" stroke="#000" stroke-width="3" />
<line x1="190" y1="624" x2="203" y2="624" stroke="#000" stroke-width="3" />
<text x="178.7" y="634.9" font-family="'Liberation Sans', Arial, sans-serif" font-size="35.6" text-anchor="end" font-weight="normal" font-style="normal" >0.2</text>
<line x1="196.5" y1="550.9" x2="203" y2="550.9" stroke="#000" stroke-width="3" />
<line x1="190" y1="477.9" x2="203" y2="477.9" stroke="#000" stroke-width="3" />
<text x="178.7" y="488.8" font-family="'Liberation Sans', Arial, sans-serif" font-size="35.6" text-anchor="end" font-weight="normal" font-style="normal" >0.4</text>
<line x1="196.5" y1="404.8" x2="203" y2="404.8" stroke="#000" stroke-width="3" />
<line x1="190" y1="331.7" x2="203" y2="331.7" stroke="#000" stroke-width="3" />
<text x="178.7" y="342.6" font-family="'Liberation Sans', Arial, sans-serif" font-size="35.6" text-anchor="end" font-weight="normal" font-style="normal" >0.6</text>
<line x1="196.5" y1="258.7" x2="203" y2="258.7" stroke="#000" stroke-width="3" />
<line x1="190" y1="185.6" x2="203" y2="185.6" stroke="#000" stroke-width="3" />
<text x="178.7" y="196.5" font-family="'Liberation Sans', Arial, sans-serif" font-size="35.6" text-anchor="end" font-weight="normal" font-style="normal" >0.8</text>
<line x1="196.5" y1="112.6" x2="203" y2="112.6" stroke="#000" stroke-width="3" />
<line x1="190" y1="39.5" x2="203" y2="39.5" stroke="#000" stroke-width="3" />
<text x="178.7" y="50.4" font-family="'Liberation Sans', Arial, sans-serif" font-size="35.6" text-anchor="end" font-weight="normal" font-style="normal" >1.0</text>
<line x1="203" y1="770.1" x2="203" y2="783.1" stroke="#000" stroke-width="3" />
<text x="203" y="820.3" font-family="'Liberation Sans', Arial, sans-serif" font-size="35.6" text-anchor="middle" font-weight="normal" font-style="normal" >35</text>
<line x1="518.2" y1="770.1" x2="518.2" y2="783.1" stroke="#000" stroke-width="3" />
<text x="518.2" y="820.3" font-family="'Liberation Sans', Arial, sans-serif" font-size="35.6" text-anchor="middle" font-weight="normal" font-style="normal" >40</text>
<line x1="833.4" y1="770.1" x2="833.4" y2="783.1" stroke="#000" stroke-width="3" />
<text x="833.4" y="820.3" font-family="'Liberation Sans', Arial, sans-serif" font-size="35.6" text-anchor="middle" font-weight="normal" font-style="normal" >45</text>
<line x1="1148.6" y1="770.1" x2="1148.6" y2="783.1" stroke="#000" stroke-width="3" />
<text x="1148.6" y="820.3" font-family="'Liberation Sans', Arial, sans-serif" font-size="35.6" text-anchor="middle" font-weight="normal" font-style="normal" >50</text>
<line x1="360.6" y1="770.1" x2="360.6" y2="776.6" stroke="#000" stroke-width="3" />
<line x1="675.8" y1="770.1" x2="675.8" y2="776.6" stroke="#000" stroke-width="3" />
<line x1="991" y1="770.1" x2="991" y2="776.6" stroke="#000" stroke-width="3" />
<text x="218.5" y="93" font-family="'Liberation Sans', Arial, sans-serif" font-size="35.6" text-anchor="start" font-weight="normal" font-style="normal" letter-spacing="2.4">(a)</text>
<text transform="translate(65.7 367.6) rotate(-90)" font-family="'Liberation Sans', Arial, sans-serif" font-size="45" text-anchor="middle" font-weight="bold">Reflectance (a.u.)</text>
<text x="675.8" y="868.6" font-family="'Liberation Sans', Arial, sans-serif" font-size="45" text-anchor="middle" font-weight="bold" font-style="normal" >Angle (Degrees)</text>
<path d="M242.4 415.1H316" fill="none" stroke="#7f00ff" stroke-width="8" stroke-linecap="round" stroke-dasharray="0.01 18"/>
<line x1="240" y1="458.2" x2="323.5" y2="458.2" stroke="#ff8000" stroke-width="4.6" />
<text x="331" y="426.5" font-family="'Liberation Sans', Arial, sans-serif" font-size="35.6" text-anchor="start" font-weight="normal" font-style="normal" >Air - Experimental</text>
<text x="331" y="471.1" font-family="'Liberation Sans', Arial, sans-serif" font-size="35.6" text-anchor="start" font-weight="normal" font-style="normal" >Air - Theoretical</text>
<text y="731.6" font-size="36" font-family="'Liberation Sans', Arial, sans-serif"><tspan x="570.5" font-family="'Liberation Serif', 'Times New Roman', serif">θ</tspan><tspan font-size="25" dy="9.8">SPR</tspan><tspan dy="-9.8" x="646.8">=</tspan><tspan x="677.4">44.77</tspan><tspan font-size="24.5" x="768" dy="-14.3">0</tspan></text>
</g>
<g id="panel-b">
<clipPath id="clipB"><rect x="1360.5" y="31.8" width="943.3" height="732.8"/></clipPath>
<g clip-path="url(#clipB)">
<path d="M1360.5 178C1362.7 177.7 1365 177.4 1367.2 177.1C1369.4 176.9 1371.7 176.6 1373.9 176.4C1376.2 176.2 1378.4 175.9 1380.7 175.8C1383 175.6 1385.2 175.4 1387.5 175.2C1389.8 175.1 1392.1 174.9 1394.3 174.8C1396.6 174.6 1398.9 174.5 1401.2 174.4C1403.5 174.3 1405.8 174.2 1408.1 174.1C1410.4 174 1412.7 173.9 1415 173.8C1417.3 173.7 1419.7 173.6 1422 173.5C1424.3 173.5 1426.6 173.4 1429 173.3C1431.3 173.2 1433.6 173.1 1436 173C1438.3 172.9 1440.6 172.9 1443 172.8C1445.3 172.7 1447.7 172.6 1450 172.4C1452.4 172.3 1454.7 172.2 1457.1 172.1C1459.4 172 1461.8 171.8 1464.1 171.7C1466.5 171.5 1468.9 171.3 1471.2 171.1C1473.6 171 1475.9 170.8 1478.3 170.5C1480.7 170.3 1483 170.1 1485.4 169.9C1487.8 169.6 1490.2 169.4 1492.5 169.1C1494.9 168.8 1497.3 168.6 1499.6 168.3C1502 168 1504.4 167.7 1506.8 167.4C1509.1 167.2 1511.5 166.9 1513.9 166.6C1516.3 166.3 1518.7 166 1521 165.7C1523.4 165.4 1525.8 165.1 1528.2 164.8C1530.5 164.5 1532.9 164.2 1535.3 163.9C1537.7 163.6 1540 163.4 1542.4 163.1C1544.8 162.8 1547.1 162.5 1549.5 162.3C1551.9 162 1554.3 161.8 1556.6 161.5C1559 161.3 1561.4 161.1 1563.7 160.9C1566.1 160.6 1568.4 160.4 1570.8 160.2C1573.2 160.1 1575.5 159.9 1577.9 159.7C1580.2 159.5 1582.6 159.4 1584.9 159.2C1587.3 159 1589.6 158.9 1592 158.7C1594.3 158.6 1596.7 158.4 1599 158.3C1601.4 158.1 1603.7 158 1606 157.8C1608.4 157.7 1610.7 157.5 1613 157.4C1615.3 157.2 1617.6 157.1 1620 156.9C1622.3 156.8 1624.6 156.6 1626.9 156.4C1629.2 156.2 1631.5 156.1 1633.8 155.9C1636.1 155.7 1638.4 155.5 1640.7 155.3C1643 155.1 1645.3 154.9 1647.5 154.6C1649.8 154.4 1652.1 154.1 1654.4 153.9C1656.6 153.6 1658.9 153.3 1661.1 153C1663.4 152.7 1665.7 152.4 1667.9 152.1C1670.1 151.7 1672.4 151.4 1674.6 151C1676.8 150.6 1679.1 150.2 1681.3 149.8C1683.5 149.4 1685.7 148.9 1687.9 148.5C1690.1 148 1692.3 147.5 1694.5 147C1696.7 146.4 1698.9 145.9 1701 145.3C1703.2 144.7 1705.4 144.1 1707.5 143.4C1709.7 142.8 1711.9 142.1 1714 141.4C1716.1 140.7 1718.3 139.9 1720.4 139.1C1722.5 138.4 1724.6 137.5 1726.7 136.7C1728.9 135.8 1731 134.9 1733 134C1735.1 133 1737.2 132 1739.3 131C1741.4 130 1743.4 128.9 1745.5 127.8C1747.5 126.7 1749.6 125.5 1751.6 124.3C1753.6 123.1 1755.7 121.9 1757.7 120.7C1759.7 119.4 1761.7 118.2 1763.7 116.9C1765.8 115.6 1767.8 114.3 1769.8 113C1771.8 111.7 1773.8 110.4 1775.8 109.2C1777.8 107.9 1779.9 106.6 1781.9 105.4C1783.9 104.1 1785.9 102.9 1788 101.8C1790 100.7 1792 99.7 1794.1 98.8C1796.1 97.9 1798.2 97.1 1800.3 96.4C1802.3 95.7 1804.4 95 1806.5 94.5C1808.6 94 1810.7 93.5 1812.8 93.2C1814.9 92.8 1817.1 92.5 1819.2 92.2C1821.4 92 1823.5 91.8 1825.7 91.7C1827.9 91.6 1830.1 91.5 1832.3 91.5C1834.6 91.5 1836.8 91.5 1839.1 91.5C1841.4 91.6 1843.7 91.7 1846 91.8C1848.3 91.9 1850.7 92 1853 92.2C1855.4 92.3 1857.8 92.5 1860.2 92.7C1862.6 92.9 1865 93.1 1867.5 93.4C1869.9 93.6 1872.4 93.9 1874.8 94.2C1877.3 94.5 1879.7 94.8 1882.2 95.2C1884.6 95.6 1887.1 96 1889.5 96.4C1892 96.8 1894.4 97.3 1896.8 97.8C1899.3 98.3 1901.7 98.8 1904.1 99.4C1906.5 100 1908.8 100.6 1911.2 101.3C1913.5 101.9 1915.8 102.6 1918.2 103.4C1920.4 104.1 1922.7 104.9 1924.9 105.7C1927.1 106.5 1929.3 107.4 1931.5 108.4C1933.6 109.3 1935.7 110.2 1937.8 111.3C1939.9 112.3 1941.9 113.3 1943.9 114.4C1945.9 115.5 1947.8 116.7 1949.8 117.8C1951.7 119 1953.6 120.3 1955.4 121.5C1957.3 122.8 1959.1 124.1 1960.8 125.4C1962.6 126.8 1964.4 128.1 1966.1 129.6C1967.8 131 1969.5 132.4 1971.1 133.9C1972.7 135.4 1974.4 136.9 1975.9 138.5C1977.5 140 1979.1 141.6 1980.6 143.3C1982.1 144.9 1983.6 146.5 1985 148.2C1986.5 149.9 1987.9 151.6 1989.3 153.4C1990.7 155.1 1992.1 156.9 1993.4 158.7C1994.8 160.5 1996.1 162.3 1997.4 164.2C1998.7 166 1999.9 167.9 2001.2 169.8C2002.4 171.7 2003.6 173.6 2004.8 175.6C2006 177.5 2007.2 179.5 2008.3 181.5C2009.4 183.5 2010.5 185.5 2011.6 187.5C2012.7 189.6 2013.8 191.6 2014.8 193.7C2015.9 195.8 2016.9 197.9 2017.9 200C2018.9 202.1 2019.9 204.2 2020.8 206.3C2021.8 208.5 2022.7 210.6 2023.7 212.8C2024.6 215 2025.5 217.2 2026.4 219.4C2027.3 221.6 2028.1 223.8 2029 226C2029.8 228.2 2030.7 230.4 2031.5 232.7C2032.3 234.9 2033.1 237.1 2033.9 239.4C2034.7 241.6 2035.4 243.9 2036.2 246.2C2037 248.4 2037.7 250.7 2038.4 253C2039.2 255.3 2039.9 257.5 2040.6 259.8C2041.3 262.1 2042 264.4 2042.6 266.7C2043.3 269 2044 271.3 2044.6 273.6C2045.3 275.8 2046 278.1 2046.6 280.4C2047.2 282.7 2047.9 285 2048.5 287.3C2049.1 289.6 2049.7 291.9 2050.3 294.2C2050.9 296.4 2051.5 298.7 2052.1 301C2052.6 303.3 2053.2 305.6 2053.8 307.9C2054.3 310.2 2054.9 312.5 2055.4 314.7C2056 317 2056.5 319.3 2057.1 321.6C2057.6 323.9 2058.1 326.2 2058.6 328.5C2059.1 330.8 2059.6 333 2060.1 335.3C2060.6 337.6 2061.1 339.9 2061.6 342.2C2062.1 344.5 2062.6 346.8 2063.1 349C2063.5 351.3 2064 353.6 2064.4 355.9C2064.9 358.2 2065.4 360.5 2065.8 362.8C2066.2 365 2066.7 367.3 2067.1 369.6C2067.6 371.9 2068 374.2 2068.4 376.5C2068.8 378.8 2069.3 381 2069.7 383.3C2070.1 385.6 2070.5 387.9 2070.9 390.2C2071.3 392.5 2071.7 394.8 2072.1 397C2072.5 399.3 2072.9 401.6 2073.3 403.9C2073.6 406.2 2074 408.5 2074.4 410.8C2074.8 413 2075.2 415.3 2075.5 417.6C2075.9 419.9 2076.3 422.2 2076.6 424.5C2077 426.8 2077.4 429.1 2077.7 431.3C2078.1 433.6 2078.5 435.9 2078.8 438.2C2079.2 440.5 2079.5 442.8 2079.9 445.1C2080.2 447.4 2080.6 449.6 2080.9 451.9C2081.3 454.2 2081.6 456.5 2082 458.8C2082.3 461.1 2082.6 463.4 2083 465.7C2083.3 468 2083.7 470.2 2084 472.5C2084.4 474.8 2084.7 477.1 2085 479.4C2085.4 481.7 2085.7 484 2086.1 486.3C2086.4 488.6 2086.7 490.9 2087.1 493.1C2087.4 495.4 2087.8 497.7 2088.1 500C2088.5 502.3 2088.8 504.6 2089.1 506.9C2089.5 509.2 2089.8 511.5 2090.2 513.8C2090.5 516.1 2090.9 518.4 2091.2 520.7C2091.6 523 2091.9 525.3 2092.3 527.6C2092.6 529.9 2093 532.2 2093.3 534.4C2093.7 536.7 2094.1 539 2094.4 541.3C2094.8 543.6 2095.1 545.9 2095.5 548.2C2095.9 550.5 2096.2 552.8 2096.6 555.1C2097 557.5 2097.3 559.8 2097.7 562.1C2098.1 564.4 2098.5 566.7 2098.8 569C2099.2 571.3 2099.6 573.6 2100 575.9C2100.3 578.2 2100.7 580.5 2101.1 582.8C2101.5 585.1 2101.9 587.4 2102.3 589.8C2102.7 592.1 2103.1 594.4 2103.5 596.7C2103.9 599 2104.3 601.3 2104.7 603.7C2105.1 606 2105.5 608.3 2105.9 610.6C2106.3 612.9 2106.7 615.3 2107.2 617.6C2107.6 619.9 2108 622.2 2108.4 624.6C2108.9 626.9 2109.3 629.2 2109.7 631.5C2110.2 633.9 2110.6 636.2 2111 638.5C2111.5 640.9 2111.9 643.2 2112.4 645.5C2112.8 647.9 2113.3 650.2 2113.7 652.6C2114.2 654.9 2114.7 657.2 2115.1 659.6C2115.6 661.9 2116.1 664.3 2116.6 666.6C2117.1 669 2117.6 671.3 2118.1 673.6C2118.6 676 2119.2 678.3 2119.7 680.6C2120.3 683 2120.8 685.3 2121.4 687.6C2122 690 2122.6 692.3 2123.2 694.6C2123.8 696.9 2124.5 699.3 2125.2 701.6C2125.8 703.9 2126.5 706.2 2127.3 708.5C2128 710.8 2128.7 713.1 2129.5 715.3C2130.3 717.6 2131.1 719.8 2132 722.1C2132.8 724.2 2133.7 726.3 2134.6 728.4C2135.5 730.3 2136.4 732.2 2137.5 734C2138.4 735.6 2139.4 737.1 2140.6 738.5C2141.6 739.7 2142.7 740.8 2143.9 741.6C2145 742.3 2146.3 742.8 2147.6 742.9C2148.8 743 2150.2 742.8 2151.4 742.3C2152.9 741.8 2154.2 740.9 2155.4 740C2156.9 738.9 2158.3 737.6 2159.5 736.2C2160.9 734.6 2162.3 732.9 2163.5 731.2C2164.9 729.3 2166.1 727.2 2167.3 725.2C2168.6 723 2169.8 720.8 2170.9 718.5C2172 716.1 2173.1 713.7 2174.1 711.3C2175.2 708.9 2176.2 706.4 2177.1 703.9C2178 701.4 2178.9 699 2179.8 696.5C2180.6 694.1 2181.4 691.7 2182.2 689.2C2182.9 686.9 2183.6 684.5 2184.3 682.1C2185 679.8 2185.7 677.5 2186.3 675.1C2186.9 672.8 2187.5 670.5 2188.1 668.2C2188.6 666 2189.2 663.7 2189.7 661.4C2190.3 659.2 2190.8 656.9 2191.3 654.7C2191.8 652.4 2192.3 650.2 2192.8 648C2193.3 645.7 2193.8 643.5 2194.2 641.3C2194.7 639 2195.2 636.8 2195.7 634.6C2196.2 632.3 2196.7 630.1 2197.2 627.9C2197.7 625.6 2198.3 623.4 2198.8 621.2C2199.3 618.9 2199.8 616.7 2200.4 614.4C2200.9 612.2 2201.4 609.9 2202 607.7C2202.5 605.4 2203.1 603.2 2203.6 600.9C2204.2 598.7 2204.7 596.4 2205.3 594.2C2205.9 591.9 2206.4 589.6 2207 587.4C2207.6 585.1 2208.1 582.9 2208.7 580.6C2209.3 578.3 2209.9 576.1 2210.5 573.8C2211.1 571.6 2211.7 569.3 2212.3 567C2212.9 564.8 2213.5 562.5 2214.1 560.3C2214.7 558 2215.3 555.7 2215.9 553.5C2216.5 551.2 2217.1 548.9 2217.8 546.7C2218.4 544.4 2219 542.2 2219.6 539.9C2220.2 537.6 2220.9 535.4 2221.5 533.1C2222.1 530.9 2222.8 528.6 2223.4 526.4C2224 524.1 2224.7 521.9 2225.3 519.6C2226 517.4 2226.6 515.1 2227.3 512.9C2227.9 510.6 2228.6 508.4 2229.2 506.1C2229.9 503.9 2230.5 501.6 2231.2 499.4C2231.8 497.2 2232.5 494.9 2233.2 492.7C2233.9 490.4 2234.5 488.2 2235.2 486C2235.9 483.7 2236.6 481.5 2237.3 479.3C2237.9 477 2238.6 474.8 2239.3 472.6C2240 470.4 2240.7 468.1 2241.4 465.9C2242.2 463.7 2242.9 461.5 2243.6 459.2C2244.3 457 2245 454.8 2245.8 452.6C2246.5 450.4 2247.2 448.2 2248 446C2248.7 443.7 2249.5 441.5 2250.2 439.3C2251 437.1 2251.7 434.9 2252.5 432.7C2253.3 430.5 2254 428.3 2254.8 426.1C2255.6 423.9 2256.4 421.8 2257.2 419.6C2258 417.4 2258.8 415.2 2259.6 413C2260.4 410.8 2261.2 408.6 2262 406.5C2262.9 404.3 2263.7 402.1 2264.5 399.9C2265.4 397.8 2266.2 395.6 2267.1 393.4C2267.9 391.3 2268.8 389.1 2269.7 387C2270.6 384.8 2271.4 382.6 2272.3 380.5C2273.2 378.3 2274.1 376.2 2275 374C2275.9 371.9 2276.9 369.8 2277.8 367.6C2278.7 365.5 2279.7 363.3 2280.6 361.2C2281.5 359.1 2282.5 356.9 2283.5 354.8C2284.4 352.7 2285.4 350.6 2286.4 348.5C2287.4 346.3 2288.4 344.2 2289.4 342.1C2290.4 340 2291.4 337.9 2292.4 335.8C2293.5 333.7 2294.5 331.6 2295.6 329.5C2296.6 327.4 2297.7 325.3 2298.7 323.2C2299.8 321.2 2300.9 319.1 2302 317" fill="none" stroke="#7f00ff" stroke-width="9.4" stroke-linecap="round" stroke-dasharray="0.01 18.5"/>
<path d="M1360.5 161.6C1362.9 161.7 1365.3 161.8 1367.7 161.9C1370 161.9 1372.4 162 1374.8 162.1C1377.2 162.2 1379.5 162.2 1381.9 162.3C1384.3 162.4 1386.7 162.4 1389 162.5C1391.4 162.6 1393.7 162.6 1396.1 162.7C1398.5 162.7 1400.8 162.8 1403.2 162.9C1405.5 162.9 1407.9 163 1410.2 163C1412.6 163.1 1414.9 163.1 1417.3 163.1C1419.6 163.2 1422 163.2 1424.3 163.3C1426.7 163.3 1429 163.3 1431.4 163.4C1433.7 163.4 1436 163.4 1438.4 163.5C1440.7 163.5 1443.1 163.5 1445.4 163.5C1447.7 163.6 1450.1 163.6 1452.4 163.6C1454.7 163.6 1457.1 163.6 1459.4 163.6C1461.7 163.7 1464.1 163.7 1466.4 163.7C1468.7 163.7 1471.1 163.7 1473.4 163.7C1475.7 163.7 1478 163.7 1480.4 163.7C1482.7 163.7 1485 163.7 1487.4 163.7C1489.7 163.7 1492 163.6 1494.3 163.6C1496.7 163.6 1499 163.6 1501.3 163.6C1503.6 163.6 1506 163.6 1508.3 163.5C1510.6 163.5 1513 163.5 1515.3 163.5C1517.6 163.4 1519.9 163.4 1522.3 163.4C1524.6 163.3 1526.9 163.3 1529.3 163.3C1531.6 163.2 1533.9 163.2 1536.3 163.1C1538.6 163.1 1540.9 163.1 1543.3 163C1545.6 163 1547.9 162.9 1550.3 162.9C1552.6 162.8 1555 162.8 1557.3 162.7C1559.6 162.7 1562 162.6 1564.3 162.5C1566.7 162.5 1569 162.4 1571.4 162.4C1573.7 162.3 1576.1 162.2 1578.4 162.2C1580.8 162.1 1583.1 162 1585.5 162C1587.8 161.9 1590.2 161.8 1592.5 161.7C1594.9 161.7 1597.3 161.6 1599.6 161.5C1602 161.4 1604.4 161.3 1606.7 161.3C1609.1 161.2 1611.5 161.1 1613.8 161C1616.2 160.9 1618.6 160.8 1621 160.7C1623.4 160.6 1625.7 160.5 1628.1 160.4C1630.5 160.3 1632.9 160.2 1635.3 160.1C1637.7 160 1640.1 159.9 1642.5 159.8C1644.9 159.6 1647.2 159.5 1649.6 159.4C1652 159.2 1654.4 159.1 1656.8 158.9C1659.2 158.7 1661.6 158.6 1663.9 158.4C1666.3 158.2 1668.7 158 1671.1 157.7C1673.4 157.5 1675.8 157.3 1678.2 157C1680.5 156.8 1682.9 156.5 1685.3 156.2C1687.6 155.9 1689.9 155.6 1692.3 155.2C1694.6 154.9 1697 154.5 1699.3 154.1C1701.6 153.7 1703.9 153.3 1706.2 152.8C1708.5 152.4 1710.8 151.9 1713.1 151.4C1715.4 150.9 1717.7 150.4 1719.9 149.8C1722.2 149.3 1724.5 148.7 1726.7 148C1728.9 147.4 1731.2 146.8 1733.4 146.1C1735.6 145.4 1737.8 144.6 1740 143.9C1742.2 143.1 1744.4 142.3 1746.5 141.4C1748.7 140.6 1750.8 139.7 1752.9 138.8C1755 137.8 1757.1 136.8 1759.1 135.8C1761.2 134.7 1763.1 133.6 1765.1 132.4C1767 131.2 1768.8 130 1770.6 128.6C1772.3 127.3 1774.1 125.9 1775.7 124.4C1777.2 122.9 1778.8 121.3 1780.1 119.6C1781.5 117.8 1782.8 116 1783.9 114.1C1785.1 112.2 1786.1 110.1 1787 108C1787.9 105.8 1788.5 103.5 1789.2 101.2L1789.2 101.2C1790.1 100.4 1790.9 99.2 1792 98.8C1793.5 98.2 1795.3 98.3 1797 98L1797 98C1799.2 97.9 1801.4 97.8 1803.6 97.6C1805.9 97.5 1808.1 97.3 1810.4 97.2C1812.6 97.1 1814.9 96.9 1817.2 96.8C1819.5 96.6 1821.8 96.5 1824.1 96.3C1826.4 96.2 1828.7 96 1831.1 95.9C1833.4 95.8 1835.8 95.6 1838.1 95.5C1840.5 95.4 1842.9 95.3 1845.2 95.2C1847.6 95.1 1850 95.1 1852.4 95C1854.8 94.9 1857.2 94.9 1859.6 94.9C1862 94.8 1864.4 94.8 1866.8 94.9C1869.2 94.9 1871.6 94.9 1874 95C1876.4 95.1 1878.8 95.2 1881.2 95.3C1883.7 95.4 1886.1 95.6 1888.5 95.8C1890.9 96 1893.3 96.2 1895.7 96.4C1898.1 96.7 1900.5 97 1902.9 97.3C1905.3 97.7 1907.7 98.1 1910.1 98.5C1912.5 98.9 1914.9 99.4 1917.3 99.9C1919.6 100.4 1922 100.9 1924.4 101.6C1926.7 102.2 1929.1 102.8 1931.4 103.5C1933.7 104.2 1936 104.9 1938.3 105.7C1940.6 106.5 1942.9 107.3 1945.1 108.2C1947.4 109 1949.6 110 1951.8 110.9C1954 111.9 1956.1 112.9 1958.3 113.9C1960.4 114.9 1962.5 116 1964.6 117.2C1966.6 118.3 1968.7 119.4 1970.7 120.7C1972.7 121.9 1974.6 123.1 1976.5 124.4C1978.4 125.7 1980.3 127 1982.1 128.4C1983.9 129.8 1985.7 131.2 1987.5 132.7C1989.2 134.1 1990.9 135.6 1992.5 137.1C1994.1 138.7 1995.7 140.2 1997.3 141.8C1998.9 143.4 2000.4 145.1 2001.9 146.7C2003.3 148.4 2004.8 150.1 2006.2 151.9C2007.6 153.6 2008.9 155.4 2010.3 157.2C2011.6 159 2012.9 160.8 2014.1 162.7C2015.4 164.5 2016.6 166.4 2017.8 168.3C2019 170.3 2020.1 172.2 2021.2 174.2C2022.4 176.2 2023.5 178.2 2024.5 180.2C2025.6 182.2 2026.6 184.2 2027.6 186.3C2028.6 188.4 2029.6 190.5 2030.5 192.6C2031.5 194.7 2032.4 196.8 2033.3 198.9C2034.2 201.1 2035.1 203.3 2035.9 205.4C2036.7 207.6 2037.6 209.8 2038.4 212C2039.2 214.3 2039.9 216.5 2040.7 218.7C2041.5 221 2042.2 223.2 2042.9 225.5C2043.6 227.8 2044.3 230.1 2045 232.3C2045.7 234.6 2046.4 237 2047 239.3C2047.7 241.6 2048.3 243.9 2048.9 246.2C2049.5 248.5 2050.1 250.9 2050.7 253.2C2051.3 255.6 2051.9 257.9 2052.5 260.3C2053.1 262.6 2053.6 265 2054.2 267.3C2054.7 269.7 2055.3 272 2055.8 274.4C2056.3 276.7 2056.9 279.1 2057.4 281.5C2057.9 283.8 2058.4 286.2 2058.9 288.5C2059.4 290.9 2059.9 293.2 2060.4 295.6C2060.9 297.9 2061.4 300.3 2061.9 302.6C2062.4 305 2062.9 307.3 2063.4 309.7C2063.8 312 2064.3 314.3 2064.8 316.7C2065.2 319 2065.7 321.4 2066.2 323.7C2066.6 326.1 2067.1 328.4 2067.5 330.7C2068 333.1 2068.4 335.4 2068.8 337.7C2069.3 340.1 2069.7 342.4 2070.1 344.7C2070.6 347.1 2071 349.4 2071.4 351.7C2071.9 354.1 2072.3 356.4 2072.7 358.7C2073.1 361.1 2073.5 363.4 2073.9 365.7C2074.3 368 2074.7 370.4 2075.1 372.7C2075.5 375 2075.9 377.3 2076.3 379.7C2076.7 382 2077.1 384.3 2077.5 386.6C2077.9 388.9 2078.3 391.3 2078.7 393.6C2079.1 395.9 2079.4 398.2 2079.8 400.5C2080.2 402.9 2080.6 405.2 2080.9 407.5C2081.3 409.8 2081.7 412.1 2082.1 414.4C2082.4 416.8 2082.8 419.1 2083.2 421.4C2083.5 423.7 2083.9 426 2084.3 428.3C2084.6 430.6 2085 432.9 2085.3 435.3C2085.7 437.6 2086 439.9 2086.4 442.2C2086.8 444.5 2087.1 446.8 2087.5 449.1C2087.8 451.4 2088.2 453.7 2088.5 456C2088.9 458.4 2089.2 460.7 2089.6 463C2089.9 465.3 2090.3 467.6 2090.6 469.9C2091 472.2 2091.3 474.5 2091.7 476.8C2092 479.1 2092.4 481.4 2092.7 483.7C2093.1 486 2093.4 488.3 2093.8 490.6C2094.1 493 2094.5 495.3 2094.8 497.6C2095.2 499.9 2095.5 502.2 2095.8 504.5C2096.2 506.8 2096.5 509.1 2096.9 511.4C2097.2 513.7 2097.6 516 2098 518.3C2098.3 520.6 2098.7 522.9 2099 525.2C2099.4 527.5 2099.7 529.8 2100.1 532.1C2100.4 534.4 2100.8 536.7 2101.1 539C2101.5 541.3 2101.9 543.6 2102.2 546C2102.6 548.3 2103 550.6 2103.3 552.9C2103.7 555.2 2104.1 557.5 2104.4 559.8C2104.8 562.1 2105.2 564.4 2105.5 566.7C2105.9 569 2106.3 571.3 2106.7 573.6C2107 575.9 2107.4 578.2 2107.8 580.5C2108.2 582.8 2108.6 585.2 2109 587.5C2109.4 589.8 2109.8 592.1 2110.2 594.4C2110.5 596.7 2110.9 599 2111.4 601.3C2111.8 603.6 2112.2 605.9 2112.6 608.2C2113 610.6 2113.4 612.9 2113.8 615.2C2114.2 617.5 2114.6 619.8 2115.1 622.1C2115.5 624.4 2115.9 626.7 2116.3 629C2116.8 631.4 2117.2 633.7 2117.7 636C2118.1 638.3 2118.5 640.6 2119 642.9C2119.4 645.3 2119.9 647.6 2120.3 649.9C2120.8 652.2 2121.3 654.5 2121.7 656.8C2122.2 659.2 2122.7 661.5 2123.2 663.8C2123.6 666.1 2124.1 668.5 2124.6 670.8C2125.1 673.1 2125.6 675.4 2126.1 677.8C2126.6 680.1 2127.1 682.4 2127.6 684.7C2128.1 687.1 2128.6 689.4 2129.1 691.7C2129.7 694 2130.2 696.4 2130.7 698.7C2131.3 701 2131.8 703.4 2132.3 705.7C2132.9 708 2133.4 710.4 2134 712.7L2134 712.7C2135.9 719 2137.5 725.3 2139.6 731.5C2141 735.6 2142.4 739.9 2144.6 743.6C2145.7 745.6 2147.7 748 2149.5 748.5C2151 748.9 2153.4 747.5 2154.6 746.2C2157.2 743.2 2159.1 739.3 2160.8 735.5C2164 728.1 2166.5 720.3 2169.3 712.7L2169.3 712.7C2170 710.5 2170.7 708.2 2171.3 706C2172 703.8 2172.7 701.5 2173.3 699.3C2174 697 2174.6 694.8 2175.3 692.5C2175.9 690.3 2176.6 688 2177.2 685.8C2177.8 683.5 2178.5 681.3 2179.1 679C2179.7 676.8 2180.3 674.5 2181 672.2C2181.6 670 2182.2 667.7 2182.8 665.4C2183.4 663.2 2184 660.9 2184.6 658.6C2185.2 656.4 2185.8 654.1 2186.4 651.8C2186.9 649.5 2187.5 647.3 2188.1 645C2188.7 642.7 2189.3 640.4 2189.8 638.1C2190.4 635.9 2191 633.6 2191.6 631.3C2192.1 629 2192.7 626.7 2193.3 624.4C2193.8 622.2 2194.4 619.9 2194.9 617.6C2195.5 615.3 2196.1 613 2196.6 610.7C2197.2 608.4 2197.7 606.1 2198.3 603.8C2198.8 601.6 2199.4 599.3 2199.9 597C2200.5 594.7 2201 592.4 2201.6 590.1C2202.1 587.8 2202.7 585.5 2203.2 583.2C2203.8 580.9 2204.3 578.6 2204.9 576.3C2205.4 574 2206 571.7 2206.5 569.4C2207.1 567.1 2207.6 564.9 2208.2 562.6C2208.7 560.3 2209.3 558 2209.8 555.7C2210.4 553.4 2211 551.1 2211.5 548.8C2212.1 546.5 2212.6 544.2 2213.2 541.9C2213.8 539.6 2214.3 537.3 2214.9 535.1C2215.5 532.8 2216 530.5 2216.6 528.2C2217.2 525.9 2217.7 523.6 2218.3 521.3C2218.9 519 2219.5 516.8 2220.1 514.5C2220.6 512.2 2221.2 509.9 2221.8 507.6C2222.4 505.4 2223 503.1 2223.6 500.8C2224.2 498.5 2224.8 496.3 2225.4 494C2226 491.7 2226.7 489.4 2227.3 487.2C2227.9 484.9 2228.5 482.6 2229.2 480.4C2229.8 478.1 2230.4 475.8 2231.1 473.6C2231.7 471.3 2232.3 469.1 2233 466.8C2233.7 464.5 2234.3 462.3 2235 460C2235.6 457.8 2236.3 455.5 2237 453.3C2237.7 451 2238.4 448.8 2239.1 446.6C2239.8 444.3 2240.5 442.1 2241.2 439.8C2241.9 437.6 2242.6 435.4 2243.3 433.2C2244 430.9 2244.8 428.7 2245.5 426.5C2246.3 424.3 2247 422 2247.8 419.8C2248.5 417.6 2249.3 415.4 2250.1 413.2C2250.8 411 2251.6 408.8 2252.4 406.6C2253.2 404.4 2254 402.2 2254.8 400C2255.6 397.8 2256.5 395.6 2257.3 393.4C2258.1 391.2 2259 389.1 2259.8 386.9C2260.7 384.7 2261.6 382.5 2262.4 380.4C2263.3 378.2 2264.2 376 2265.1 373.9C2266 371.7 2266.9 369.6 2267.8 367.4C2268.7 365.3 2269.7 363.1 2270.6 361C2271.6 358.8 2272.5 356.7 2273.5 354.6C2274.5 352.4 2275.5 350.3 2276.5 348.2C2277.4 346.1 2278.5 344 2279.5 341.9C2280.5 339.7 2281.5 337.6 2282.6 335.5C2283.6 333.4 2284.7 331.4 2285.8 329.3C2286.8 327.2 2287.9 325.1 2289 323C2290.1 320.9 2291.3 318.9 2292.4 316.8C2293.5 314.7 2294.7 312.7 2295.8 310.6C2297 308.6 2298.2 306.5 2299.4 304.5C2300.6 302.5 2301.8 300.4 2303 298.4" fill="none" stroke="#ff8000" stroke-width="4.7" stroke-linejoin="round"/>
</g>
<rect x="1360.5" y="33.8" width="942.3" height="728.8" fill="none" stroke="#000" stroke-width="2.6"/>
<line x1="1347.5" y1="762.6" x2="1360.5" y2="762.6" stroke="#000" stroke-width="2.6" />
<text x="1336.5" y="773.4" font-family="'Liberation Sans', Arial, sans-serif" font-size="35.6" text-anchor="end" font-weight="normal" font-style="normal" >0.0</text>
<line x1="1354" y1="689.7" x2="1360.5" y2="689.7" stroke="#000" stroke-width="2.6" />
<line x1="1347.5" y1="616.8" x2="1360.5" y2="616.8" stroke="#000" stroke-width="2.6" />
<text x="1336.5" y="627.6" font-family="'Liberation Sans', Arial, sans-serif" font-size="35.6" text-anchor="end" font-weight="normal" font-style="normal" >0.2</text>
<line x1="1354" y1="544" x2="1360.5" y2="544" stroke="#000" stroke-width="2.6" />
<line x1="1347.5" y1="471.1" x2="1360.5" y2="471.1" stroke="#000" stroke-width="2.6" />
<text x="1336.5" y="481.9" font-family="'Liberation Sans', Arial, sans-serif" font-size="35.6" text-anchor="end" font-weight="normal" font-style="normal" >0.4</text>
<line x1="1354" y1="398.2" x2="1360.5" y2="398.2" stroke="#000" stroke-width="2.6" />
<line x1="1347.5" y1="325.3" x2="1360.5" y2="325.3" stroke="#000" stroke-width="2.6" />
<text x="1336.5" y="336.1" font-family="'Liberation Sans', Arial, sans-serif" font-size="35.6" text-anchor="end" font-weight="normal" font-style="normal" >0.6</text>
<line x1="1354" y1="252.4" x2="1360.5" y2="252.4" stroke="#000" stroke-width="2.6" />
<line x1="1347.5" y1="179.6" x2="1360.5" y2="179.6" stroke="#000" stroke-width="2.6" />
<text x="1336.5" y="190.4" font-family="'Liberation Sans', Arial, sans-serif" font-size="35.6" text-anchor="end" font-weight="normal" font-style="normal" >0.8</text>
<line x1="1354" y1="106.7" x2="1360.5" y2="106.7" stroke="#000" stroke-width="2.6" />
<line x1="1347.5" y1="33.8" x2="1360.5" y2="33.8" stroke="#000" stroke-width="2.6" />
<text x="1336.5" y="44.6" font-family="'Liberation Sans', Arial, sans-serif" font-size="35.6" text-anchor="end" font-weight="normal" font-style="normal" >1.0</text>
<line x1="1360.5" y1="762.6" x2="1360.5" y2="775.6" stroke="#000" stroke-width="2.6" />
<text x="1360.5" y="812.7" font-family="'Liberation Sans', Arial, sans-serif" font-size="35.6" text-anchor="middle" font-weight="normal" font-style="normal" >50</text>
<line x1="1674.6" y1="762.6" x2="1674.6" y2="775.6" stroke="#000" stroke-width="2.6" />
<text x="1674.6" y="812.7" font-family="'Liberation Sans', Arial, sans-serif" font-size="35.6" text-anchor="middle" font-weight="normal" font-style="normal" >60</text>
<line x1="1988.7" y1="762.6" x2="1988.7" y2="775.6" stroke="#000" stroke-width="2.6" />
<text x="1988.7" y="812.7" font-family="'Liberation Sans', Arial, sans-serif" font-size="35.6" text-anchor="middle" font-weight="normal" font-style="normal" >70</text>
<line x1="2302.8" y1="762.6" x2="2302.8" y2="775.6" stroke="#000" stroke-width="2.6" />
<text x="2302.8" y="812.7" font-family="'Liberation Sans', Arial, sans-serif" font-size="35.6" text-anchor="middle" font-weight="normal" font-style="normal" >80</text>
<line x1="1517.5" y1="762.6" x2="1517.5" y2="769.1" stroke="#000" stroke-width="2.6" />
<line x1="1831.7" y1="762.6" x2="1831.7" y2="769.1" stroke="#000" stroke-width="2.6" />
<line x1="2145.8" y1="762.6" x2="2145.8" y2="769.1" stroke="#000" stroke-width="2.6" />
<text x="1375.5" y="87.5" font-family="'Liberation Sans', Arial, sans-serif" font-size="35.6" text-anchor="start" font-weight="normal" font-style="normal" letter-spacing="2.4">(b)</text>
<text transform="translate(1233.5 359.5) rotate(-90)" font-family="'Liberation Sans', Arial, sans-serif" font-size="45" text-anchor="middle" font-weight="bold">Reflectance (a.u.)</text>
<text x="1830.6" y="862.4" font-family="'Liberation Sans', Arial, sans-serif" font-size="45" text-anchor="middle" font-weight="bold" font-style="normal" >Angle (Degrees)</text>
<path d="M1410.8 409.8H1478" fill="none" stroke="#7f00ff" stroke-width="9.6" stroke-linecap="round" stroke-dasharray="0.01 21.8"/>
<line x1="1408.8" y1="452.6" x2="1493" y2="452.6" stroke="#ff8000" stroke-width="4.6" />
<text x="1500.4" y="419.7" font-family="'Liberation Sans', Arial, sans-serif" font-size="35.6" text-anchor="start" font-weight="normal" font-style="normal" >DW - Experimental</text>
<text x="1500.4" y="463.9" font-family="'Liberation Sans', Arial, sans-serif" font-size="35.6" text-anchor="start" font-weight="normal" font-style="normal" >DW - Theoretical</text>
<text y="728.4" font-size="36" font-family="'Liberation Sans', Arial, sans-serif"><tspan x="1878.6" font-family="'Liberation Serif', 'Times New Roman', serif">θ</tspan><tspan font-size="25" dy="9.4">SPR</tspan><tspan dy="-9.4" x="1957">=</tspan><tspan x="1986.6">75.11</tspan><tspan font-size="24.5" x="2075.6" dy="-14.6">0</tspan></text>
</g>
<g id="panel-c">
<clipPath id="clipC"><rect x="207" y="890.2" width="949" height="726.3"/></clipPath>
<g clip-path="url(#clipC)" fill="none" stroke-width="4.8" stroke-linejoin="round">
<path d="M328 864.6C330 872.5 332 880.3 334 888.2C336 895.9 338 903.6 340 911.3C342 918.9 344 926.5 346 934.1C348 941.5 350 949 352 956.4C354 963.7 356 971 358 978.3C360 985.5 362 992.7 364 999.8C366 1006.9 368 1013.9 370 1020.9C372 1027.8 374 1034.7 376 1041.6C378 1048.3 380 1055.1 382 1061.9C384 1068.5 386 1075.1 388 1081.7C390 1088.2 392 1094.7 394 1101.1C396 1107.5 398 1113.8 400 1120.2C402 1126.4 404 1132.6 406 1138.8C408 1144.9 410 1151 412 1157C414 1163 416 1168.9 418 1174.8C420 1180.6 422 1186.4 424 1192.2C426 1197.9 428 1203.6 430 1209.2C432 1214.8 434 1220.3 436 1225.8C438 1231.2 440 1236.6 442 1242C444 1247.3 446 1252.6 448 1257.8C450 1263 452 1268.1 454 1273.2C456 1278.2 458 1283.2 460 1288.2C462 1293.1 464 1298 466 1302.8C468 1307.6 470 1312.3 472 1317C474 1321.6 476 1326.2 478 1330.8C480 1335.3 482 1339.8 484 1344.2C486 1348.6 488 1352.9 490 1357.3C492 1361.5 494 1365.7 496 1369.9C498 1374 500 1378 502 1382.1C504 1386.1 506 1390 508 1394C510 1397.8 512 1401.6 514 1405.4C516 1409.1 518 1412.8 520 1416.5C522 1420 524 1423.6 526 1427.2C528 1430.6 530 1434 532 1437.4C534 1440.8 536 1444.1 538 1447.4C540 1450.5 542 1453.7 544 1456.9C546 1459.9 548 1463 550 1466C552 1469 554 1471.9 556 1474.8C558 1477.6 560 1480.4 562 1483.2C564 1485.9 566 1488.5 568 1491.2C570 1493.7 572 1496.3 574 1498.8C576 1501.2 578 1503.7 580 1506C582 1508.4 584 1510.7 586 1512.9C588 1515.1 590 1517.3 592 1519.4C594 1521.5 596 1523.5 598 1525.6C600 1527.5 602 1529.4 604 1531.3C606 1533.1 608 1534.9 610 1536.7C612 1538.4 614 1540.1 616 1541.7C618 1543.3 620 1544.9 622 1546.4C624 1547.8 626 1549.3 628 1550.6C630 1552 632 1553.3 634 1554.6C636 1555.8 638 1557 640 1558.1C642 1559.2 644 1560.3 646 1561.3C648 1562.3 650 1563.2 652 1564.1C654 1565 656 1565.8 658 1566.6C660 1567.4 662 1568.1 664 1568.7C666 1569.3 668 1569.9 670 1570.4C672 1571 674 1571.4 676 1571.8C678 1572.2 680 1572.6 682 1572.9C684 1573.2 686 1573.4 688 1573.5C690 1573.7 692 1573.8 694 1573.9C696 1573.9 698 1573.9 700 1573.8C702 1573.8 704 1573.6 706 1573.5C708 1573.3 710 1573 712 1572.7C714 1572.4 716 1572.1 718 1571.6C720 1571.2 722 1570.7 724 1570.2C726 1569.7 728 1569.1 730 1568.4C732 1567.8 734 1567.1 736 1566.3C738 1565.5 740 1564.7 742 1563.8C744 1562.9 746 1562 748 1561C750 1560 752 1558.9 754 1557.8C756 1556.7 758 1555.5 760 1554.3C762 1553.1 764 1551.8 766 1550.5C768 1549.1 770 1547.7 772 1546.3C774 1544.8 776 1543.3 778 1541.7C780 1540.2 782 1538.5 784 1536.9C786 1535.2 788 1533.4 790 1531.7C792 1529.8 794 1528 796 1526.1C798 1524.2 800 1522.2 802 1520.2C804 1518.2 806 1516.1 808 1514C810 1511.8 812 1509.6 814 1507.4C816 1505.2 818 1502.9 820 1500.5C822 1498.2 824 1495.7 826 1493.3C828 1490.8 830 1488.3 832 1485.7C834 1483.1 836 1480.5 838 1477.8C840 1475.1 842 1472.4 844 1469.6C846 1466.8 848 1463.9 850 1461.1C852 1458.1 854 1455.1 856 1452.2C858 1449.1 860 1446 862 1442.9C864 1439.8 866 1436.6 868 1433.4C870 1430.1 872 1426.8 874 1423.5C876 1420.1 878 1416.7 880 1413.3C882 1409.8 884 1406.3 886 1402.7C888 1399.1 890 1395.5 892 1391.9C894 1388.1 896 1384.4 898 1380.7C900 1376.8 902 1373 904 1369.1C906 1365.2 908 1361.2 910 1357.3C912 1353.2 914 1349.2 916 1345.1C918 1340.9 920 1336.7 922 1332.6C924 1328.3 926 1324 928 1319.7C930 1315.3 932 1311 934 1306.6C936 1302.1 938 1297.6 940 1293.1C942 1288.5 944 1283.9 946 1279.2C948 1274.5 950 1269.8 952 1265.1C954 1260.3 956 1255.4 958 1250.6C960 1245.7 962 1240.8 964 1235.8C966 1230.8 968 1225.7 970 1220.7C972 1215.5 974 1210.4 976 1205.2C978 1200 980 1194.7 982 1189.4C984 1184.1 986 1178.7 988 1173.3C990 1167.8 992 1162.4 994 1156.9C996 1151.3 998 1145.7 1000 1140.1C1002 1134.4 1004 1128.7 1006 1123C1008 1117.2 1010 1111.4 1012 1105.6C1014 1099.7 1016 1093.8 1018 1087.8C1020 1081.8 1022 1075.8 1024 1069.7C1026 1063.6 1028 1057.5 1030 1051.3C1032 1045.1 1034 1038.8 1036 1032.6C1038 1026.2 1040 1019.9 1042 1013.5C1044 1007 1046 1000.6 1048 994.1C1050 987.5 1052 980.9 1054 974.4C1056 967.7 1058 961 1060 954.3C1062 947.5 1064 940.7 1066 933.9C1068 927 1070 920 1072 913.1C1074 906.1 1076 899.1 1078 892C1080 884.9 1082 877.8 1084 870.6" stroke="#000"/>
<path d="M316 854C318 862 320 870 322 878C324 885.8 326 893.6 328 901.3C330 909 332 916.6 334 924.2C336 931.6 338 939 340 946.4C342 953.7 344 960.9 346 968.2C348 975.3 350 982.3 352 989.4C354 996.3 356 1003.2 358 1010.1C360 1016.9 362 1023.6 364 1030.4C366 1037 368 1043.5 370 1050.1C372 1056.5 374 1063 376 1069.4C378 1075.6 380 1081.9 382 1088.2C384 1094.3 386 1100.4 388 1106.5C390 1112.5 392 1118.4 394 1124.4C396 1130.2 398 1136 400 1141.8C402 1147.5 404 1153.1 406 1158.8C408 1164.3 410 1169.9 412 1175.4C414 1180.8 416 1186.2 418 1191.5C420 1196.8 422 1202 424 1207.3C426 1212.4 428 1217.5 430 1222.6C432 1227.6 434 1232.6 436 1237.5C438 1242.4 440 1247.2 442 1252.1C444 1256.8 446 1261.5 448 1266.2C450 1270.8 452 1275.4 454 1280C456 1284.4 458 1288.9 460 1293.4C462 1297.7 464 1302 466 1306.4C468 1310.6 470 1314.8 472 1319C474 1323.1 476 1327.2 478 1331.3C480 1335.3 482 1339.2 484 1343.2C486 1347 488 1350.9 490 1354.7C492 1358.5 494 1362.2 496 1365.9C498 1369.5 500 1373.2 502 1376.8C504 1380.3 506 1383.8 508 1387.3C510 1390.7 512 1394 514 1397.4C516 1400.7 518 1404 520 1407.2C522 1410.4 524 1413.5 526 1416.7C528 1419.7 530 1422.8 532 1425.8C534 1428.7 536 1431.7 538 1434.6C540 1437.4 542 1440.2 544 1443C546 1445.8 548 1448.5 550 1451.1C552 1453.8 554 1456.4 556 1458.9C558 1461.4 560 1463.9 562 1466.4C564 1468.8 566 1471.1 568 1473.5C570 1475.8 572 1478.1 574 1480.3C576 1482.5 578 1484.6 580 1486.8C582 1488.8 584 1490.9 586 1492.9C588 1494.9 590 1496.8 592 1498.7C594 1500.6 596 1502.4 598 1504.2C600 1505.9 602 1507.6 604 1509.3C606 1511 608 1512.6 610 1514.2C612 1515.7 614 1517.2 616 1518.7C618 1520.1 620 1521.5 622 1522.8C624 1524.1 626 1525.4 628 1526.7C630 1527.9 632 1529.1 634 1530.2C636 1531.3 638 1532.4 640 1533.4C642 1534.4 644 1535.3 646 1536.2C648 1537.1 650 1538 652 1538.8C654 1539.5 656 1540.3 658 1541C660 1541.6 662 1542.3 664 1542.8C666 1543.4 668 1543.9 670 1544.4C672 1544.8 674 1545.2 676 1545.6C678 1545.9 680 1546.2 682 1546.5C684 1546.7 686 1546.9 688 1547C690 1547.1 692 1547.2 694 1547.2C696 1547.2 698 1547.2 700 1547.1C702 1547 704 1546.8 706 1546.6C708 1546.4 710 1546.1 712 1545.8C714 1545.5 716 1545.1 718 1544.7C720 1544.2 722 1543.7 724 1543.2C726 1542.6 728 1542 730 1541.4C732 1540.7 734 1540 736 1539.2C738 1538.4 740 1537.6 742 1536.7C744 1535.8 746 1534.8 748 1533.8C750 1532.8 752 1531.8 754 1530.7C756 1529.5 758 1528.3 760 1527.1C762 1525.9 764 1524.6 766 1523.3C768 1521.9 770 1520.5 772 1519C774 1517.5 776 1516 778 1514.5C780 1512.9 782 1511.2 784 1509.6C786 1507.8 788 1506.1 790 1504.3C792 1502.5 794 1500.6 796 1498.7C798 1496.7 800 1494.7 802 1492.7C804 1490.7 806 1488.6 808 1486.4C810 1484.3 812 1482 814 1479.8C816 1477.5 818 1475.2 820 1472.8C822 1470.4 824 1467.9 826 1465.5C828 1462.9 830 1460.4 832 1457.8C834 1455.1 836 1452.5 838 1449.8C840 1447 842 1444.2 844 1441.4C846 1438.5 848 1435.6 850 1432.7C852 1429.7 854 1426.7 856 1423.6C858 1420.5 860 1417.4 862 1414.2C864 1411 866 1407.7 868 1404.5C870 1401.1 872 1397.8 874 1394.4C876 1390.9 878 1387.5 880 1384C882 1380.4 884 1376.8 886 1373.2C888 1369.6 890 1365.9 892 1362.2C894 1358.4 896 1354.6 898 1350.7C900 1346.8 902 1342.9 904 1339C906 1335 908 1331 910 1326.9C912 1322.8 914 1318.7 916 1314.5C918 1310.3 920 1306.1 922 1301.8C924 1297.5 926 1293.2 928 1288.8C930 1284.4 932 1279.9 934 1275.5C936 1270.9 938 1266.4 940 1261.8C942 1257.2 944 1252.5 946 1247.9C948 1243.2 950 1238.4 952 1233.6C954 1228.8 956 1224 958 1219.1C960 1214.2 962 1209.2 964 1204.3C966 1199.2 968 1194.2 970 1189.2C972 1184 974 1178.9 976 1173.8C978 1168.5 980 1163.3 982 1158.1C984 1152.8 986 1147.5 988 1142.1C990 1136.8 992 1131.4 994 1126C996 1120.5 998 1115 1000 1109.5C1002 1103.9 1004 1098.4 1006 1092.8C1008 1087.2 1010 1081.5 1012 1075.9C1014 1070.1 1016 1064.4 1018 1058.7C1020 1052.9 1022 1047.1 1024 1041.3C1026 1035.4 1028 1029.6 1030 1023.7C1032 1017.7 1034 1011.8 1036 1005.9C1038 999.9 1040 993.9 1042 987.8C1044 981.8 1046 975.7 1048 969.6C1050 963.5 1052 957.4 1054 951.3C1056 945.1 1058 938.9 1060 932.7C1062 926.5 1064 920.2 1066 914C1068 907.7 1070 901.4 1072 895.2C1074 888.8 1076 882.5 1078 876.2C1080 869.8 1082 863.4 1084 857.1" stroke="#ff0000"/>
<path d="M322 864.1C324 871.6 326 879.1 328 886.6C330 893.9 332 901.2 334 908.5C336 915.6 338 922.8 340 929.9C342 936.9 344 943.9 346 950.8C348 957.7 350 964.5 352 971.3C354 977.9 356 984.6 358 991.2C360 997.7 362 1004.2 364 1010.7C366 1017.1 368 1023.4 370 1029.7C372 1035.9 374 1042.1 376 1048.3C378 1054.3 380 1060.4 382 1066.4C384 1072.3 386 1078.2 388 1084C390 1089.8 392 1095.5 394 1101.3C396 1106.9 398 1112.4 400 1118C402 1123.5 404 1128.9 406 1134.4C408 1139.7 410 1145 412 1150.3C414 1155.5 416 1160.6 418 1165.8C420 1170.8 422 1175.8 424 1180.8C426 1185.7 428 1190.6 430 1195.5C432 1200.3 434 1205 436 1209.8C438 1214.4 440 1219 442 1223.6C444 1228.1 446 1232.6 448 1237.1C450 1241.4 452 1245.8 454 1250.1C456 1254.4 458 1258.6 460 1262.8C462 1266.9 464 1271 466 1275.1C468 1279.1 470 1283 472 1287C474 1290.8 476 1294.7 478 1298.5C480 1302.2 482 1305.9 484 1309.6C486 1313.2 488 1316.8 490 1320.4C492 1323.9 494 1327.4 496 1330.8C498 1334.2 500 1337.5 502 1340.9C504 1344.1 506 1347.3 508 1350.5C510 1353.7 512 1356.8 514 1359.9C516 1362.9 518 1365.8 520 1368.8C522 1371.7 524 1374.6 526 1377.4C528 1380.2 530 1383 532 1385.7C534 1388.3 536 1391 538 1393.6C540 1396.1 542 1398.7 544 1401.2C546 1403.6 548 1406 550 1408.4C552 1410.7 554 1413 556 1415.3C558 1417.5 560 1419.7 562 1421.8C564 1423.9 566 1426 568 1428C570 1430 572 1432 574 1433.9C576 1435.8 578 1437.6 580 1439.4C582 1441.2 584 1443 586 1444.7C588 1446.3 590 1448 592 1449.5C594 1451.1 596 1452.6 598 1454.1C600 1455.6 602 1457 604 1458.3C606 1459.7 608 1461 610 1462.3C612 1463.5 614 1464.7 616 1465.8C618 1467 620 1468.1 622 1469.1C624 1470.1 626 1471.1 628 1472.1C630 1473 632 1473.9 634 1474.7C636 1475.5 638 1476.3 640 1477C642 1477.8 644 1478.4 646 1479C648 1479.7 650 1480.2 652 1480.7C654 1481.3 656 1481.7 658 1482.1C660 1482.5 662 1482.9 664 1483.2C666 1483.5 668 1483.8 670 1484C672 1484.2 674 1484.3 676 1484.4C678 1484.5 680 1484.6 682 1484.6C684 1484.6 686 1484.6 688 1484.5C690 1484.4 692 1484.2 694 1484C696 1483.8 698 1483.5 700 1483.2C702 1482.9 704 1482.6 706 1482.2C708 1481.8 710 1481.3 712 1480.8C714 1480.3 716 1479.8 718 1479.2C720 1478.6 722 1477.9 724 1477.2C726 1476.5 728 1475.8 730 1475C732 1474.2 734 1473.3 736 1472.4C738 1471.5 740 1470.6 742 1469.6C744 1468.6 746 1467.5 748 1466.4C750 1465.3 752 1464.2 754 1463C756 1461.8 758 1460.6 760 1459.3C762 1458 764 1456.7 766 1455.3C768 1453.9 770 1452.5 772 1451C774 1449.5 776 1448 778 1446.4C780 1444.8 782 1443.2 784 1441.5C786 1439.8 788 1438.1 790 1436.4C792 1434.6 794 1432.8 796 1430.9C798 1429 800 1427.1 802 1425.2C804 1423.2 806 1421.2 808 1419.2C810 1417.1 812 1415 814 1412.9C816 1410.7 818 1408.5 820 1406.3C822 1404 824 1401.7 826 1399.4C828 1397.1 830 1394.7 832 1392.3C834 1389.9 836 1387.4 838 1384.9C840 1382.4 842 1379.8 844 1377.2C846 1374.6 848 1371.9 850 1369.3C852 1366.5 854 1363.8 856 1361.1C858 1358.2 860 1355.4 862 1352.6C864 1349.7 866 1346.7 868 1343.8C870 1340.8 872 1337.8 874 1334.8C876 1331.7 878 1328.6 880 1325.5C882 1322.3 884 1319.1 886 1315.9C888 1312.7 890 1309.4 892 1306.1C894 1302.8 896 1299.4 898 1296C900 1292.6 902 1289.2 904 1285.7C906 1282.2 908 1278.7 910 1275.1C912 1271.5 914 1267.9 916 1264.3C918 1260.6 920 1256.9 922 1253.2C924 1249.5 926 1245.7 928 1241.9C930 1238 932 1234.2 934 1230.3C936 1226.4 938 1222.5 940 1218.5C942 1214.5 944 1210.5 946 1206.5C948 1202.4 950 1198.3 952 1194.2C954 1190 956 1185.8 958 1181.7C960 1177.4 962 1173.2 964 1168.9C966 1164.6 968 1160.3 970 1155.9C972 1151.5 974 1147.1 976 1142.7C978 1138.3 980 1133.8 982 1129.3C984 1124.8 986 1120.2 988 1115.7C990 1111.1 992 1106.4 994 1101.8C996 1097.1 998 1092.5 1000 1087.8C1002 1083 1004 1078.3 1006 1073.5C1008 1068.7 1010 1063.9 1012 1059C1014 1054.2 1016 1049.3 1018 1044.4C1020 1039.4 1022 1034.5 1024 1029.5C1026 1024.5 1028 1019.5 1030 1014.5C1032 1009.4 1034 1004.3 1036 999.3C1038 994.1 1040 989 1042 983.9C1044 978.7 1046 973.5 1048 968.3C1050 963 1052 957.8 1054 952.5C1056 947.2 1058 941.9 1060 936.6C1062 931.3 1064 925.9 1066 920.6C1068 915.1 1070 909.7 1072 904.3C1074 898.9 1076 893.4 1078 888C1080 882.5 1082 876.9 1084 871.4C1086 865.9 1088 860.3 1090 854.8" stroke="#00ff00"/>
<path d="M370 850.2C372 856.7 374 863.3 376 869.8C378 876.1 380 882.4 382 888.6C384 894.7 386 900.8 388 906.9C390 912.8 392 918.7 394 924.6C396 930.3 398 936 400 941.7C402 947.2 404 952.7 406 958.3C408 963.6 410 968.9 412 974.3C414 979.4 416 984.6 418 989.8C420 994.8 422 999.8 424 1004.7C426 1009.6 428 1014.4 430 1019.2C432 1023.9 434 1028.6 436 1033.2C438 1037.7 440 1042.3 442 1046.8C444 1051.1 446 1055.5 448 1059.8C450 1064.1 452 1068.3 454 1072.5C456 1076.6 458 1080.6 460 1084.7C462 1088.7 464 1092.6 466 1096.5C468 1100.3 470 1104.1 472 1107.9C474 1111.6 476 1115.2 478 1118.9C480 1122.4 482 1125.9 484 1129.5C486 1132.9 488 1136.3 490 1139.7C492 1143 494 1146.3 496 1149.5C498 1152.7 500 1155.8 502 1159C504 1162 506 1165.1 508 1168.1C510 1171 512 1174 514 1176.9C516 1179.7 518 1182.5 520 1185.3C522 1188 524 1190.7 526 1193.4C528 1196 530 1198.5 532 1201.1C534 1203.6 536 1206.1 538 1208.5C540 1210.9 542 1213.2 544 1215.6C546 1217.9 548 1220.1 550 1222.3C552 1224.5 554 1226.7 556 1228.8C558 1230.8 560 1232.9 562 1234.9C564 1236.9 566 1238.8 568 1240.7C570 1242.6 572 1244.4 574 1246.2C576 1248 578 1249.7 580 1251.4C582 1253.1 584 1254.7 586 1256.3C588 1257.9 590 1259.4 592 1260.9C594 1262.4 596 1263.8 598 1265.2C600 1266.5 602 1267.9 604 1269.2C606 1270.4 608 1271.7 610 1272.8C612 1274 614 1275.1 616 1276.2C618 1277.3 620 1278.3 622 1279.3C624 1280.3 626 1281.2 628 1282.1C630 1283 632 1283.8 634 1284.6C636 1285.3 638 1286.1 640 1286.8C642 1287.4 644 1288.1 646 1288.6C648 1289.2 650 1289.7 652 1290.2C654 1290.7 656 1291.1 658 1291.5C660 1291.9 662 1292.2 664 1292.5C666 1292.8 668 1293 670 1293.2C672 1293.3 674 1293.4 676 1293.5C678 1293.6 680 1293.6 682 1293.6C684 1293.6 686 1293.5 688 1293.3C690 1293.2 692 1293 694 1292.8C696 1292.6 698 1292.3 700 1291.9C702 1291.6 704 1291.2 706 1290.8C708 1290.3 710 1289.8 712 1289.3C714 1288.7 716 1288.1 718 1287.5C720 1286.8 722 1286.1 724 1285.4C726 1284.6 728 1283.8 730 1283C732 1282.1 734 1281.2 736 1280.2C738 1279.2 740 1278.2 742 1277.2C744 1276.1 746 1274.9 748 1273.8C750 1272.6 752 1271.3 754 1270.1C756 1268.8 758 1267.4 760 1266.1C762 1264.6 764 1263.2 766 1261.7C768 1260.2 770 1258.6 772 1257C774 1255.4 776 1253.8 778 1252.1C780 1250.3 782 1248.5 784 1246.7C786 1244.9 788 1243 790 1241.1C792 1239.1 794 1237.2 796 1235.1C798 1233.1 800 1231 802 1228.9C804 1226.7 806 1224.5 808 1222.2C810 1220 812 1217.6 814 1215.3C816 1212.9 818 1210.5 820 1208.1C822 1205.6 824 1203 826 1200.5C828 1197.9 830 1195.2 832 1192.6C834 1189.9 836 1187.1 838 1184.4C840 1181.5 842 1178.7 844 1175.8C846 1172.9 848 1170 850 1167C852 1164 854 1160.9 856 1157.8C858 1154.7 860 1151.5 862 1148.4C864 1145.1 866 1141.9 868 1138.6C870 1135.3 872 1131.9 874 1128.5C876 1125.1 878 1121.6 880 1118.2C882 1114.6 884 1111.1 886 1107.5C888 1103.9 890 1100.2 892 1096.5C894 1092.8 896 1089.1 898 1085.3C900 1081.5 902 1077.6 904 1073.8C906 1069.9 908 1065.9 910 1062C912 1058 914 1054 916 1050C918 1045.9 920 1041.8 922 1037.7C924 1033.5 926 1029.3 928 1025.1C930 1020.8 932 1016.6 934 1012.3C936 1008 938 1003.6 940 999.3C942 994.8 944 990.4 946 986C948 981.5 950 977 952 972.5C954 968 956 963.4 958 958.8C960 954.2 962 949.6 964 945C966 940.3 968 935.6 970 930.9C972 926.2 974 921.4 976 916.7C978 911.9 980 907.1 982 902.3C984 897.4 986 892.6 988 887.8C990 882.9 992 878 994 873.1C996 868.2 998 863.2 1000 858.3" stroke="#00ffff"/>
<path d="M430 852.2C432 856.2 434 860.1 436 864C438 867.8 440 871.6 442 875.3C444 879 446 882.6 448 886.2C450 889.7 452 893.2 454 896.7C456 900.1 458 903.5 460 906.8C462 910.1 464 913.3 466 916.5C468 919.6 470 922.7 472 925.8C474 928.8 476 931.8 478 934.7C480 937.6 482 940.5 484 943.3C486 946 488 948.8 490 951.5C492 954.1 494 956.8 496 959.4C498 961.9 500 964.4 502 966.9C504 969.3 506 971.7 508 974.1C510 976.4 512 978.7 514 980.9C516 983.1 518 985.3 520 987.5C522 989.5 524 991.6 526 993.7C528 995.7 530 997.6 532 999.6C534 1001.5 536 1003.4 538 1005.2C540 1007 542 1008.8 544 1010.5C546 1012.2 548 1013.9 550 1015.5C552 1017.1 554 1018.7 556 1020.3C558 1021.8 560 1023.3 562 1024.7C564 1026.1 566 1027.5 568 1028.9C570 1030.2 572 1031.5 574 1032.8C576 1034 578 1035.2 580 1036.4C582 1037.5 584 1038.7 586 1039.7C588 1040.8 590 1041.8 592 1042.8C594 1043.8 596 1044.7 598 1045.6C600 1046.5 602 1047.3 604 1048.2C606 1049 608 1049.7 610 1050.4C612 1051.1 614 1051.8 616 1052.4C618 1053.1 620 1053.6 622 1054.2C624 1054.7 626 1055.2 628 1055.7C630 1056.1 632 1056.5 634 1056.9C636 1057.3 638 1057.6 640 1057.9C642 1058.1 644 1058.4 646 1058.6C648 1058.8 650 1058.9 652 1059C654 1059.1 656 1059.2 658 1059.2C660 1059.2 662 1059.2 664 1059.1C666 1059 668 1058.9 670 1058.8C672 1058.6 674 1058.4 676 1058.2C678 1057.9 680 1057.6 682 1057.3C684 1057 686 1056.6 688 1056.2C690 1055.7 692 1055.3 694 1054.7C696 1054.2 698 1053.7 700 1053.1C702 1052.5 704 1051.8 706 1051.1C708 1050.4 710 1049.7 712 1048.9C714 1048.1 716 1047.3 718 1046.4C720 1045.5 722 1044.6 724 1043.6C726 1042.6 728 1041.6 730 1040.6C732 1039.5 734 1038.4 736 1037.2C738 1036.1 740 1034.8 742 1033.6C744 1032.3 746 1031 748 1029.7C750 1028.3 752 1026.9 754 1025.5C756 1024 758 1022.5 760 1021C762 1019.4 764 1017.8 766 1016.2C768 1014.5 770 1012.8 772 1011.1C774 1009.4 776 1007.6 778 1005.7C780 1003.9 782 1002 784 1000C786 998.1 788 996.1 790 994C792 992 794 989.9 796 987.7C798 985.5 800 983.3 802 981.1C804 978.8 806 976.5 808 974.2C810 971.8 812 969.3 814 966.9C816 964.4 818 961.9 820 959.3C822 956.7 824 954.1 826 951.4C828 948.7 830 945.9 832 943.2C834 940.3 836 937.5 838 934.6C840 931.7 842 928.7 844 925.7C846 922.7 848 919.6 850 916.5C852 913.3 854 910.1 856 906.9C858 903.6 860 900.3 862 897C864 893.6 866 890.2 868 886.7C870 883.2 872 879.7 874 876.1C876 872.5 878 868.8 880 865.2C882 861.4 884 857.6 886 853.8" stroke="#ff00ff"/>
</g>
<rect x="207" y="890.2" width="949" height="726.3" fill="none" stroke="#000" stroke-width="2.8"/>
<line x1="194" y1="1616.5" x2="207" y2="1616.5" stroke="#000" stroke-width="2.8" />
<text x="184" y="1626.7" font-family="'Liberation Sans', Arial, sans-serif" font-size="35" text-anchor="end" font-weight="normal" font-style="normal" >0.018</text>
<line x1="200.5" y1="1564.6" x2="207" y2="1564.6" stroke="#000" stroke-width="2.8" />
<line x1="194" y1="1512.7" x2="207" y2="1512.7" stroke="#000" stroke-width="2.8" />
<text x="184" y="1522.9" font-family="'Liberation Sans', Arial, sans-serif" font-size="35" text-anchor="end" font-weight="normal" font-style="normal" >0.019</text>
<line x1="200.5" y1="1460.9" x2="207" y2="1460.9" stroke="#000" stroke-width="2.8" />
<line x1="194" y1="1409" x2="207" y2="1409" stroke="#000" stroke-width="2.8" />
<text x="184" y="1419.2" font-family="'Liberation Sans', Arial, sans-serif" font-size="35" text-anchor="end" font-weight="normal" font-style="normal" >0.020</text>
<line x1="200.5" y1="1357.1" x2="207" y2="1357.1" stroke="#000" stroke-width="2.8" />
<line x1="194" y1="1305.2" x2="207" y2="1305.2" stroke="#000" stroke-width="2.8" />
<text x="184" y="1315.4" font-family="'Liberation Sans', Arial, sans-serif" font-size="35" text-anchor="end" font-weight="normal" font-style="normal" >0.021</text>
<line x1="200.5" y1="1253.4" x2="207" y2="1253.4" stroke="#000" stroke-width="2.8" />
<line x1="194" y1="1201.5" x2="207" y2="1201.5" stroke="#000" stroke-width="2.8" />
<text x="184" y="1211.7" font-family="'Liberation Sans', Arial, sans-serif" font-size="35" text-anchor="end" font-weight="normal" font-style="normal" >0.022</text>
<line x1="200.5" y1="1149.6" x2="207" y2="1149.6" stroke="#000" stroke-width="2.8" />
<line x1="194" y1="1097.7" x2="207" y2="1097.7" stroke="#000" stroke-width="2.8" />
<text x="184" y="1107.9" font-family="'Liberation Sans', Arial, sans-serif" font-size="35" text-anchor="end" font-weight="normal" font-style="normal" >0.023</text>
<line x1="200.5" y1="1045.8" x2="207" y2="1045.8" stroke="#000" stroke-width="2.8" />
<line x1="194" y1="994" x2="207" y2="994" stroke="#000" stroke-width="2.8" />
<text x="184" y="1004.2" font-family="'Liberation Sans', Arial, sans-serif" font-size="35" text-anchor="end" font-weight="normal" font-style="normal" >0.024</text>
<line x1="200.5" y1="942.1" x2="207" y2="942.1" stroke="#000" stroke-width="2.8" />
<line x1="194" y1="890.2" x2="207" y2="890.2" stroke="#000" stroke-width="2.8" />
<text x="184" y="900.4" font-family="'Liberation Sans', Arial, sans-serif" font-size="35" text-anchor="end" font-weight="normal" font-style="normal" >0.025</text>
<line x1="207" y1="1616.5" x2="207" y2="1629.5" stroke="#000" stroke-width="2.8" />
<text x="207" y="1665.5" font-family="'Liberation Sans', Arial, sans-serif" font-size="35" text-anchor="middle" font-weight="normal" font-style="normal" >74.8</text>
<line x1="523.3" y1="1616.5" x2="523.3" y2="1629.5" stroke="#000" stroke-width="2.8" />
<text x="523.3" y="1665.5" font-family="'Liberation Sans', Arial, sans-serif" font-size="35" text-anchor="middle" font-weight="normal" font-style="normal" >75.0</text>
<line x1="839.7" y1="1616.5" x2="839.7" y2="1629.5" stroke="#000" stroke-width="2.8" />
<text x="839.7" y="1665.5" font-family="'Liberation Sans', Arial, sans-serif" font-size="35" text-anchor="middle" font-weight="normal" font-style="normal" >75.2</text>
<line x1="1156" y1="1616.5" x2="1156" y2="1629.5" stroke="#000" stroke-width="2.8" />
<text x="1156" y="1665.5" font-family="'Liberation Sans', Arial, sans-serif" font-size="35" text-anchor="middle" font-weight="normal" font-style="normal" >75.4</text>
<line x1="365.2" y1="1616.5" x2="365.2" y2="1623" stroke="#000" stroke-width="2.8" />
<line x1="681.5" y1="1616.5" x2="681.5" y2="1623" stroke="#000" stroke-width="2.8" />
<line x1="997.8" y1="1616.5" x2="997.8" y2="1623" stroke="#000" stroke-width="2.8" />
<text x="218.5" y="939.6" font-family="'Liberation Sans', Arial, sans-serif" font-size="35" text-anchor="start" font-weight="normal" font-style="normal" letter-spacing="2.6">(c)</text>
<text transform="translate(64.9 1218.9) rotate(-90)" font-family="'Liberation Sans', Arial, sans-serif" font-size="45" text-anchor="middle" font-weight="bold">Reflectance (a.u.)</text>
<text x="680.7" y="1733" font-family="'Liberation Sans', Arial, sans-serif" font-size="45" text-anchor="middle" font-weight="bold" font-style="normal" >Angle (degrees)</text>
<line x1="921" y1="1399.8" x2="1005" y2="1399.8" stroke="#000" stroke-width="5" />
<text x="1012.5" y="1411.5" font-family="'Liberation Sans', Arial, sans-serif" font-size="35" text-anchor="start" font-weight="normal" font-style="normal" >0.00 %</text>
<line x1="921" y1="1443.7" x2="1005" y2="1443.7" stroke="#ff0000" stroke-width="5" />
<text x="1012.5" y="1455.4" font-family="'Liberation Sans', Arial, sans-serif" font-size="35" text-anchor="start" font-weight="normal" font-style="normal" >0.02 %</text>
<line x1="921" y1="1487.6" x2="1005" y2="1487.6" stroke="#00ff00" stroke-width="5" />
<text x="1012.5" y="1499.3" font-family="'Liberation Sans', Arial, sans-serif" font-size="35" text-anchor="start" font-weight="normal" font-style="normal" >0.05 %</text>
<line x1="921" y1="1531.5" x2="1005" y2="1531.5" stroke="#00ffff" stroke-width="5" />
<text x="1012.5" y="1543.2" font-family="'Liberation Sans', Arial, sans-serif" font-size="35" text-anchor="start" font-weight="normal" font-style="normal" >0.50 %</text>
<line x1="921" y1="1575.4" x2="1005" y2="1575.4" stroke="#ff00ff" stroke-width="5" />
<text x="1012.5" y="1587.1" font-family="'Liberation Sans', Arial, sans-serif" font-size="35" text-anchor="start" font-weight="normal" font-style="normal" >1.00 %</text>
</g>
<g id="panel-d">
<rect x="1362" y="887.4" width="943.6" height="723.6" fill="none" stroke="#000" stroke-width="2.6"/>
<line x1="1456.3" y1="1520.5" x2="2243.2" y2="940.1" stroke="#000" stroke-width="4.2" />
<circle cx="1456.3" cy="1523.6" r="14.2" fill="url(#ball)"/>
<circle cx="1472" cy="1500.2" r="14.2" fill="url(#ball)"/>
<circle cx="1495.7" cy="1424.8" r="14.2" fill="url(#ball)"/>
<circle cx="1848.8" cy="1221" r="14.2" fill="url(#ball)"/>
<circle cx="2242.1" cy="970.8" r="14.2" fill="url(#ball)"/>
<line x1="1349" y1="1522.9" x2="1362" y2="1522.9" stroke="#000" stroke-width="2.6" />
<text x="1339" y="1532.5" font-family="'Liberation Sans', Arial, sans-serif" font-size="29" text-anchor="end" font-weight="normal" font-style="normal" >1.33140</text>
<line x1="1349" y1="1378.2" x2="1362" y2="1378.2" stroke="#000" stroke-width="2.6" />
<text x="1339" y="1387.8" font-family="'Liberation Sans', Arial, sans-serif" font-size="29" text-anchor="end" font-weight="normal" font-style="normal" >1.33142</text>
<line x1="1349" y1="1233.5" x2="1362" y2="1233.5" stroke="#000" stroke-width="2.6" />
<text x="1339" y="1243.1" font-family="'Liberation Sans', Arial, sans-serif" font-size="29" text-anchor="end" font-weight="normal" font-style="normal" >1.33144</text>
<line x1="1349" y1="1088.8" x2="1362" y2="1088.8" stroke="#000" stroke-width="2.6" />
<text x="1339" y="1098.4" font-family="'Liberation Sans', Arial, sans-serif" font-size="29" text-anchor="end" font-weight="normal" font-style="normal" >1.33146</text>
<line x1="1349" y1="944.1" x2="1362" y2="944.1" stroke="#000" stroke-width="2.6" />
<text x="1339" y="953.7" font-family="'Liberation Sans', Arial, sans-serif" font-size="29" text-anchor="end" font-weight="normal" font-style="normal" >1.33148</text>
<line x1="1355.5" y1="1595.2" x2="1362" y2="1595.2" stroke="#000" stroke-width="2.6" />
<line x1="1355.5" y1="1450.5" x2="1362" y2="1450.5" stroke="#000" stroke-width="2.6" />
<line x1="1355.5" y1="1305.9" x2="1362" y2="1305.9" stroke="#000" stroke-width="2.6" />
<line x1="1355.5" y1="1161.1" x2="1362" y2="1161.1" stroke="#000" stroke-width="2.6" />
<line x1="1355.5" y1="1016.4" x2="1362" y2="1016.4" stroke="#000" stroke-width="2.6" />
<line x1="1456.3" y1="1611" x2="1456.3" y2="1624" stroke="#000" stroke-width="2.6" />
<text x="1456.3" y="1656.3" font-family="'Liberation Sans', Arial, sans-serif" font-size="29" text-anchor="middle" font-weight="normal" font-style="normal" >0.0</text>
<line x1="1613.6" y1="1611" x2="1613.6" y2="1624" stroke="#000" stroke-width="2.6" />
<text x="1613.6" y="1656.3" font-family="'Liberation Sans', Arial, sans-serif" font-size="29" text-anchor="middle" font-weight="normal" font-style="normal" >0.2</text>
<line x1="1770.9" y1="1611" x2="1770.9" y2="1624" stroke="#000" stroke-width="2.6" />
<text x="1770.9" y="1656.3" font-family="'Liberation Sans', Arial, sans-serif" font-size="29" text-anchor="middle" font-weight="normal" font-style="normal" >0.4</text>
<line x1="1928.2" y1="1611" x2="1928.2" y2="1624" stroke="#000" stroke-width="2.6" />
<text x="1928.2" y="1656.3" font-family="'Liberation Sans', Arial, sans-serif" font-size="29" text-anchor="middle" font-weight="normal" font-style="normal" >0.6</text>
<line x1="2085.5" y1="1611" x2="2085.5" y2="1624" stroke="#000" stroke-width="2.6" />
<text x="2085.5" y="1656.3" font-family="'Liberation Sans', Arial, sans-serif" font-size="29" text-anchor="middle" font-weight="normal" font-style="normal" >0.8</text>
<line x1="2242.8" y1="1611" x2="2242.8" y2="1624" stroke="#000" stroke-width="2.6" />
<text x="2242.8" y="1656.3" font-family="'Liberation Sans', Arial, sans-serif" font-size="29" text-anchor="middle" font-weight="normal" font-style="normal" >1.0</text>
<line x1="1377.6" y1="1611" x2="1377.6" y2="1617.5" stroke="#000" stroke-width="2.6" />
<line x1="1535" y1="1611" x2="1535" y2="1617.5" stroke="#000" stroke-width="2.6" />
<line x1="1692.2" y1="1611" x2="1692.2" y2="1617.5" stroke="#000" stroke-width="2.6" />
<line x1="1849.5" y1="1611" x2="1849.5" y2="1617.5" stroke="#000" stroke-width="2.6" />
<line x1="2006.8" y1="1611" x2="2006.8" y2="1617.5" stroke="#000" stroke-width="2.6" />
<line x1="2164.2" y1="1611" x2="2164.2" y2="1617.5" stroke="#000" stroke-width="2.6" />
<text x="1382" y="938" font-family="'Liberation Sans', Arial, sans-serif" font-size="36" text-anchor="start" font-weight="normal" font-style="normal" letter-spacing="2.4">(d)</text>
<text x="1833.8" y="1718.7" font-family="'Liberation Sans', Arial, sans-serif" font-size="45" text-anchor="middle" font-weight="bold" font-style="normal" >Concentration of PS (%)</text>
<text transform="translate(1208.6 1611.8) rotate(-90)" font-family="'Liberation Sans', Arial, sans-serif" font-size="44.75" font-weight="bold">Effective refractive index <tspan font-style="italic">n</tspan><tspan font-style="italic" font-weight="normal" font-size="32" dy="12" dx="-1.5 0.3 5.6">eff</tspan><tspan dy="-12" dx="7.7">(RIU)</tspan></text>
<line x1="1545.4" y1="928.5" x2="1629" y2="928.5" stroke="#000" stroke-width="4.6" />
<circle cx="1586" cy="973" r="14.2" fill="url(#ball)"/>
<text x="1637" y="940" font-family="'Liberation Sans', Arial, sans-serif" font-size="35.5" text-anchor="start" font-weight="normal" font-style="normal" >Theoretical</text>
<text x="1637" y="983.9" font-family="'Liberation Sans', Arial, sans-serif" font-size="35.5" text-anchor="start" font-weight="normal" font-style="normal" >Experimental</text>
<text y="1477.6" font-family="'Liberation Sans', Arial, sans-serif" font-size="38"><tspan x="1617.3" font-style="italic">n</tspan><tspan font-style="italic" font-size="27" dy="9.5">T</tspan><tspan dy="-9.5" x="1662.5">=</tspan><tspan x="1698.6">7.984525</tspan><tspan x="1871.5">×</tspan><tspan x="1904.4">10</tspan><tspan font-size="27" dy="-15.5" dx="1">-5</tspan><tspan dy="15.5" x="1982">×</tspan><tspan x="2015" font-style="italic">f</tspan><tspan x="2046">+</tspan><tspan x="2080.6">1.331400</tspan></text>
<text y="1548" font-family="'Liberation Sans', Arial, sans-serif" font-size="38"><tspan x="1617.3" font-style="italic">n</tspan><tspan font-style="italic" font-size="27" dy="9.5">E</tspan><tspan dy="-9.5" x="1662.5">=</tspan><tspan x="1698.6">7.286293</tspan><tspan x="1871.5">×</tspan><tspan x="1904.4">10</tspan><tspan font-size="27" dy="-15.5" dx="1">-5</tspan><tspan dy="15.5" x="1982">×</tspan><tspan x="2015" font-style="italic">f</tspan><tspan x="2046">+</tspan><tspan x="2080.6">1.331404</tspan></text>
</g>
</svg></body></html>
